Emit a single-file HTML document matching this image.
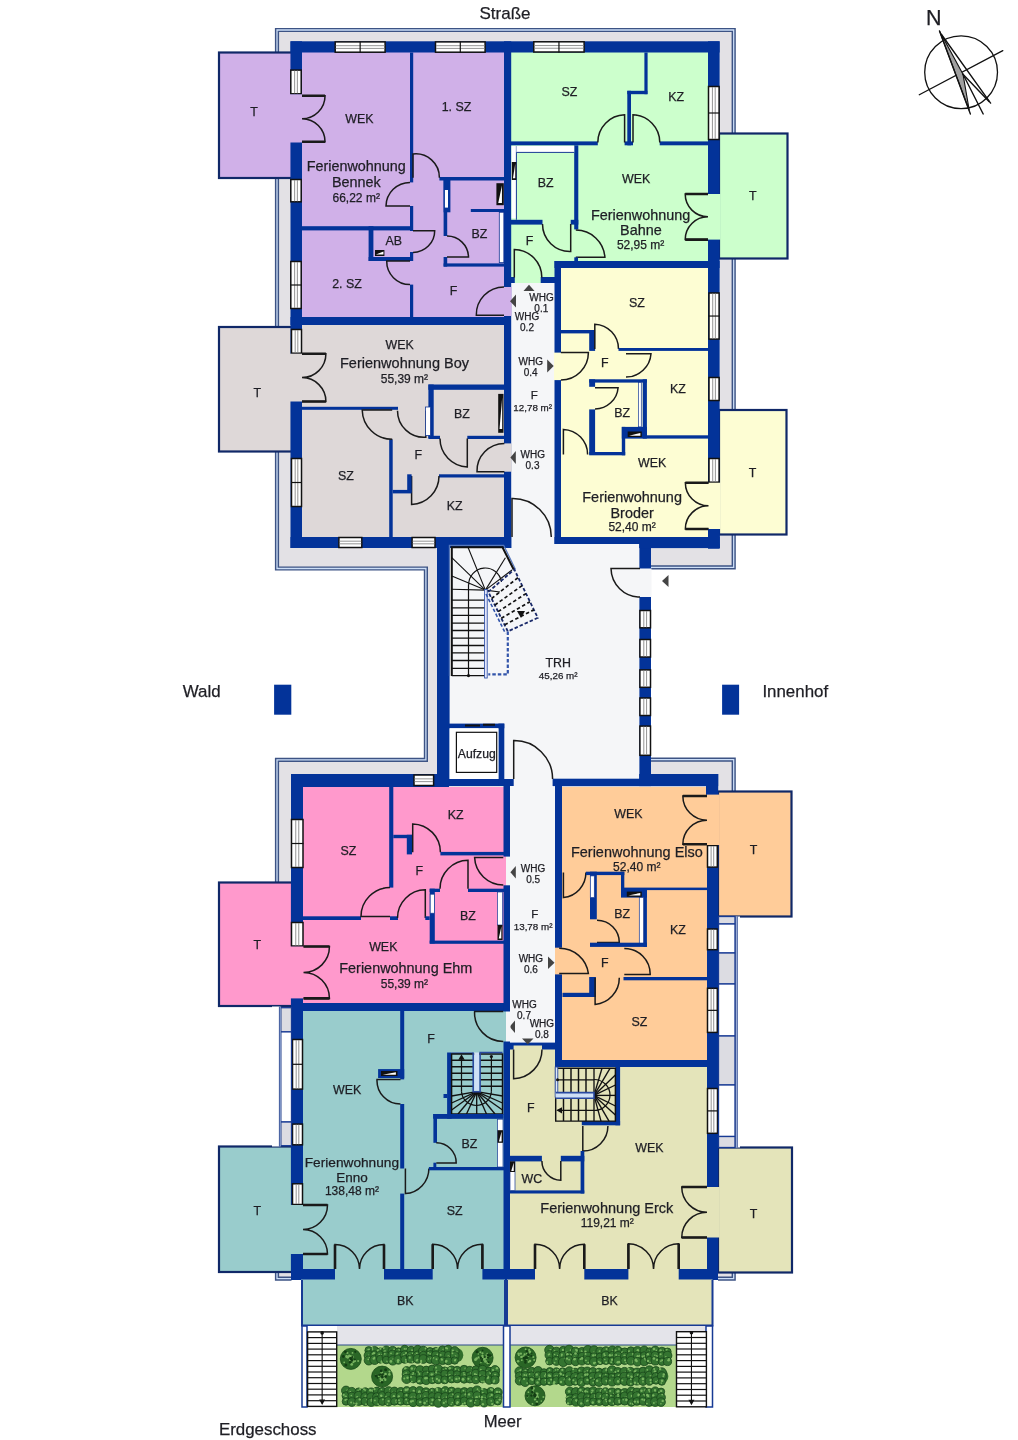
<!DOCTYPE html>
<html><head><meta charset="utf-8"><style>
html,body{margin:0;padding:0;background:#fff;}
svg{display:block;will-change:transform;}
text{font-family:"Liberation Sans",sans-serif;}
</style></head><body>
<svg width="1018" height="1440" viewBox="0 0 1018 1440">
<polygon points="277,30 733.7,30 733.7,567.3 651,567.3 651,759.6 733.7,759.6 733.7,1278.6 277,1278.6 277,759.8 425.9,759.8 425.9,568.5 277,568.5" fill="#e3e1e5"/>
<path d="M651 567.3 L733.7 567.3 L733.7 30 L277 30 L277 568.5 L425.9 568.5 L425.9 759.8 L277 759.8 L277 1278.6 L291.5 1278.6" stroke="#3d5384" stroke-width="4.2" fill="none"/>
<path d="M651 567.3 L733.7 567.3 L733.7 30 L277 30 L277 568.5 L425.9 568.5 L425.9 759.8 L277 759.8 L277 1278.6 L291.5 1278.6" stroke="#cddff8" stroke-width="1.3" fill="none"/>
<path d="M651 759.6 L733.7 759.6 L733.7 1278.6 L718 1278.6" stroke="#3d5384" stroke-width="4.2" fill="none"/>
<path d="M651 759.6 L733.7 759.6 L733.7 1278.6 L718 1278.6" stroke="#cddff8" stroke-width="1.3" fill="none"/>
<rect x="219" y="52.5" width="73" height="125.5" fill="#d0b0e8" stroke="#102868" stroke-width="2.2"/>
<rect x="719" y="133.5" width="68.5" height="125.0" fill="#ccffcc" stroke="#102868" stroke-width="2.2"/>
<rect x="219" y="327" width="73" height="124.5" fill="#ded8d8" stroke="#102868" stroke-width="2.2"/>
<rect x="719" y="410" width="67.5" height="124.5" fill="#fdfdd3" stroke="#102868" stroke-width="2.2"/>
<rect x="219" y="882.5" width="73" height="123.5" fill="#ff99cc" stroke="#102868" stroke-width="2.2"/>
<rect x="718" y="791.5" width="73.5" height="125.0" fill="#ffcc99" stroke="#102868" stroke-width="2.2"/>
<rect x="219" y="1146.5" width="73" height="125.5" fill="#99cccc" stroke="#102868" stroke-width="2.2"/>
<rect x="718" y="1147.5" width="74" height="125.0" fill="#e4e4ba" stroke="#102868" stroke-width="2.2"/>
<rect x="302" y="52" width="203" height="266" fill="#d0b0e8"/>
<rect x="511" y="52" width="197" height="210" fill="#ccffcc"/>
<rect x="511" y="262" width="44" height="21" fill="#ccffcc"/>
<rect x="302" y="324" width="203" height="213" fill="#ded8d8"/>
<rect x="560" y="267" width="149" height="270" fill="#fdfdd3"/>
<rect x="511" y="283" width="44" height="265" fill="#f5f6f8"/>
<rect x="449" y="544" width="191" height="236" fill="#f5f6f8"/>
<rect x="510" y="778" width="45" height="267" fill="#f5f6f8"/>
<rect x="303" y="787" width="201" height="217" fill="#ff99cc"/>
<rect x="562" y="787" width="146" height="274" fill="#ffcc99"/>
<rect x="303" y="1010" width="201" height="260" fill="#99cccc"/>
<rect x="509" y="1046" width="47" height="224" fill="#e4e4ba"/>
<rect x="509" y="1067" width="199" height="203" fill="#e4e4ba"/>
<rect x="290.5" y="41.3" width="429.1" height="11.2" fill="#033399"/>
<rect x="290.5" y="41.3" width="11.5" height="506.7" fill="#033399"/>
<rect x="290.5" y="537" width="220.8" height="11" fill="#033399"/>
<rect x="708" y="41.3" width="11.6" height="507.4" fill="#033399"/>
<rect x="554.5" y="537" width="165.1" height="7" fill="#033399"/>
<rect x="554.5" y="261" width="165.1" height="7" fill="#033399"/>
<rect x="504" y="41.3" width="7.2" height="506.7" fill="#033399"/>
<rect x="554.5" y="261" width="6.5" height="283" fill="#033399"/>
<rect x="290.5" y="317" width="220.5" height="8" fill="#033399"/>
<rect x="437" y="537" width="12.6" height="249" fill="#033399"/>
<rect x="639.4" y="537" width="11.6" height="249" fill="#033399"/>
<rect x="437" y="779" width="76.7" height="7" fill="#033399"/>
<rect x="552.6" y="779" width="98.4" height="7" fill="#033399"/>
<rect x="291" y="774" width="158" height="13" fill="#033399"/>
<rect x="553" y="778.7" width="98" height="7.4" fill="#033399"/>
<rect x="639.2" y="774" width="79.0" height="12.1" fill="#033399"/>
<rect x="706" y="774" width="12.2" height="21.4" fill="#033399"/>
<rect x="291" y="774" width="12" height="506" fill="#033399"/>
<rect x="707" y="774" width="11" height="506" fill="#033399"/>
<rect x="291" y="1003" width="219" height="8" fill="#033399"/>
<rect x="503.5" y="779" width="6.5" height="501" fill="#033399"/>
<rect x="555" y="779" width="7" height="288" fill="#033399"/>
<rect x="555" y="1060" width="163" height="7" fill="#033399"/>
<rect x="291" y="1269" width="427" height="11" fill="#033399"/>
<rect x="505" y="1042.6" width="51" height="6.9" fill="#033399"/>
<rect x="410" y="52.5" width="3.2" height="129.9" fill="#033399"/>
<rect x="410" y="206" width="3.2" height="25" fill="#033399"/>
<rect x="410" y="252" width="3.2" height="9" fill="#033399"/>
<rect x="410" y="284.6" width="3.2" height="33.4" fill="#033399"/>
<rect x="439.4" y="177" width="64.6" height="3.5" fill="#033399"/>
<rect x="302" y="226.2" width="111" height="4.2" fill="#033399"/>
<rect x="368.6" y="226.2" width="4.8" height="34.8" fill="#033399"/>
<rect x="368.6" y="257" width="44.4" height="4" fill="#033399"/>
<rect x="443.6" y="180" width="3.6" height="56" fill="#033399"/>
<rect x="443.6" y="257" width="3.6" height="9.6" fill="#033399"/>
<rect x="443.6" y="180" width="6.8" height="32.3" fill="#033399"/>
<rect x="443.6" y="263.4" width="60.4" height="3.2" fill="#033399"/>
<rect x="470.8" y="209" width="33.2" height="3" fill="#033399"/>
<rect x="444.9" y="190" width="3.1" height="17.6" fill="#fff"/>
<rect x="496.4" y="183.2" width="7.4" height="22.0" fill="#111"/>
<polygon points="501.95,185.39999999999998 498.25,203.0 501.95,203.0" fill="#fff"/>
<rect x="499.3" y="212.3" width="4.5" height="50.3" fill="#fff" stroke="#173a94" stroke-width="0.8"/>
<rect x="375" y="250" width="9.4" height="6" fill="#111"/>
<polygon points="375.94,254.5 383.46,251.5 383.46,254.5" fill="#fff"/>
<path d="M410 206 L386 206 A24.0 24.0 0 0 1 410 182.4" stroke="#1a1a1a" stroke-width="1.5" fill="none"/>
<path d="M413 177.7 L413 154 A23.7 23.7 0 0 1 439.4 177.7" stroke="#1a1a1a" stroke-width="1.5" fill="none"/>
<path d="M447 257 L468.5 257 A21.5 21.5 0 0 0 447 236" stroke="#1a1a1a" stroke-width="1.5" fill="none"/>
<path d="M413 230.7 L434.7 230.7 A21.7 21.7 0 0 1 413 252.4" stroke="#1a1a1a" stroke-width="1.5" fill="none"/>
<path d="M410 261 L386.7 261 A23.3 23.3 0 0 0 410 284.6" stroke="#1a1a1a" stroke-width="1.5" fill="none"/>
<rect x="503.5" y="287" width="8.1" height="29" fill="#d0b0e8"/>
<path d="M504 315.3 L476.3 315.3 A27.7 27.7 0 0 1 504 287" stroke="#1a1a1a" stroke-width="1.5" fill="none"/>
<rect x="290.8" y="70.1" width="10.4" height="23.7" fill="#fff" stroke="#111" stroke-width="1.5"/>
<line x1="294.63" y1="70.6" x2="294.63" y2="93.3" stroke="#888" stroke-width="0.9"/>
<line x1="297.37" y1="70.6" x2="297.37" y2="93.3" stroke="#888" stroke-width="0.9"/>
<rect x="289.5" y="94.3" width="13.0" height="48.2" fill="#d0b0e8"/>
<path d="M302 95.7 L325.05 95.7 A23.050000000000004 23.050000000000004 0 0 1 302 118.75 A23.050000000000004 23.050000000000004 0 0 1 325.05 141.8 L302 141.8" stroke="#1a1a1a" stroke-width="1.5" fill="none"/>
<path d="M302 95.7 L325.05 95.7 M325.05 141.8 L302 141.8" stroke="#1a1a1a" stroke-width="2.6"/>
<rect x="290.8" y="179.5" width="10.4" height="22.3" fill="#fff" stroke="#111" stroke-width="1.5"/>
<line x1="294.63" y1="180" x2="294.63" y2="201.3" stroke="#888" stroke-width="0.9"/>
<line x1="297.37" y1="180" x2="297.37" y2="201.3" stroke="#888" stroke-width="0.9"/>
<rect x="290.8" y="261.5" width="10.4" height="47" fill="#fff" stroke="#111" stroke-width="1.5"/>
<line x1="294.63" y1="262" x2="294.63" y2="308" stroke="#888" stroke-width="0.9"/>
<line x1="297.37" y1="262" x2="297.37" y2="308" stroke="#888" stroke-width="0.9"/>
<line x1="290.3" y1="285.0" x2="301.7" y2="285.0" stroke="#111" stroke-width="1.2"/>
<rect x="335.2" y="41.9" width="49.9" height="10.3" fill="#fff" stroke="#111" stroke-width="1.5"/>
<line x1="335.7" y1="45.69" x2="384.6" y2="45.69" stroke="#888" stroke-width="0.9"/>
<line x1="335.7" y1="48.41" x2="384.6" y2="48.41" stroke="#888" stroke-width="0.9"/>
<line x1="360.15" y1="41.4" x2="360.15" y2="52.7" stroke="#111" stroke-width="1.2"/>
<rect x="435.5" y="41.9" width="49.6" height="10.3" fill="#fff" stroke="#111" stroke-width="1.5"/>
<line x1="436" y1="45.69" x2="484.6" y2="45.69" stroke="#888" stroke-width="0.9"/>
<line x1="436" y1="48.41" x2="484.6" y2="48.41" stroke="#888" stroke-width="0.9"/>
<line x1="460.3" y1="41.4" x2="460.3" y2="52.7" stroke="#111" stroke-width="1.2"/>
<text x="359.4" y="123" font-size="12.4" text-anchor="middle" fill="#1e1e24" stroke="#1e1e24" stroke-width="0.25">WEK</text>
<text x="356.3" y="170.6" font-size="14.4" text-anchor="middle" fill="#1e1e24" stroke="#1e1e24" stroke-width="0.25" textLength="99" lengthAdjust="spacingAndGlyphs">Ferienwohnung</text>
<text x="356.3" y="186.6" font-size="14.4" text-anchor="middle" fill="#1e1e24" stroke="#1e1e24" stroke-width="0.25">Bennek</text>
<text x="356.2" y="201.5" font-size="12" text-anchor="middle" fill="#1e1e24" stroke="#1e1e24" stroke-width="0.25">66,22 m²</text>
<text x="456.5" y="111.4" font-size="12.4" text-anchor="middle" fill="#1e1e24" stroke="#1e1e24" stroke-width="0.25">1. SZ</text>
<text x="254" y="116" font-size="12.4" text-anchor="middle" fill="#1e1e24" stroke="#1e1e24" stroke-width="0.25">T</text>
<text x="347" y="288.4" font-size="12.4" text-anchor="middle" fill="#1e1e24" stroke="#1e1e24" stroke-width="0.25">2. SZ</text>
<text x="453.5" y="294.8" font-size="12.4" text-anchor="middle" fill="#1e1e24" stroke="#1e1e24" stroke-width="0.25">F</text>
<text x="479.5" y="237.5" font-size="12.4" text-anchor="middle" fill="#1e1e24" stroke="#1e1e24" stroke-width="0.25">BZ</text>
<text x="393.8" y="244.5" font-size="12.4" text-anchor="middle" fill="#1e1e24" stroke="#1e1e24" stroke-width="0.25">AB</text>
<rect x="533.8" y="41.8" width="50.3" height="10.2" fill="#fff" stroke="#111" stroke-width="1.5"/>
<line x1="534.3" y1="45.56" x2="583.6" y2="45.56" stroke="#888" stroke-width="0.9"/>
<line x1="534.3" y1="48.24" x2="583.6" y2="48.24" stroke="#888" stroke-width="0.9"/>
<line x1="558.95" y1="41.3" x2="558.95" y2="52.5" stroke="#111" stroke-width="1.2"/>
<rect x="708.5" y="86.5" width="10.6" height="53" fill="#fff" stroke="#111" stroke-width="1.5"/>
<line x1="712.41" y1="87" x2="712.41" y2="139" stroke="#888" stroke-width="0.9"/>
<line x1="715.19" y1="87" x2="715.19" y2="139" stroke="#888" stroke-width="0.9"/>
<line x1="708" y1="113.0" x2="719.6" y2="113.0" stroke="#111" stroke-width="1.2"/>
<rect x="707.5" y="194" width="13.0" height="45.6" fill="#ccffcc"/>
<path d="M708 194 L685.2 194 A22.799999999999997 22.799999999999997 0 0 0 708 216.8 A22.799999999999997 22.799999999999997 0 0 0 685.2 239.6 L708 239.6" stroke="#1a1a1a" stroke-width="1.5" fill="none"/>
<path d="M708 194 L685.2 194 M685.2 239.6 L708 239.6" stroke="#1a1a1a" stroke-width="2.6"/>
<rect x="644.4" y="52.5" width="3.2" height="41.7" fill="#033399"/>
<rect x="627.3" y="90.8" width="20.1" height="3.4" fill="#033399"/>
<rect x="627.3" y="90.8" width="3.7" height="54.5" fill="#033399"/>
<rect x="624.6" y="141.4" width="8.4" height="3.9" fill="#033399"/>
<rect x="511" y="141.4" width="86.8" height="3.9" fill="#033399"/>
<rect x="659.7" y="141.4" width="48.3" height="3.9" fill="#033399"/>
<path d="M624.6 142.5 L624.6 114.8 A27.7 27.7 0 0 0 597.8 142.5" stroke="#1a1a1a" stroke-width="1.5" fill="none"/>
<path d="M633 142.5 L633 114.8 A27.7 27.7 0 0 1 659.8 142.5" stroke="#1a1a1a" stroke-width="1.5" fill="none"/>
<rect x="574.2" y="145.3" width="4.1" height="84.1" fill="#033399"/>
<rect x="511" y="219.8" width="31.5" height="4.8" fill="#033399"/>
<rect x="570.7" y="219.8" width="7.6" height="4.8" fill="#033399"/>
<path d="M570.7 224 L570.7 251.4 A27.4 27.4 0 0 1 542.5 224" stroke="#1a1a1a" stroke-width="1.5" fill="none"/>
<path d="M575.8 257.3 L604.9 257.3 A29.1 29.1 0 0 0 575.8 230.1" stroke="#1a1a1a" stroke-width="1.5" fill="none"/>
<rect x="574.3" y="257.3" width="3.7" height="4.7" fill="#033399"/>
<rect x="511.6" y="146" width="4.8" height="72.4" fill="#fff"/>
<path d="M516.4 146 L516.4 219.8" stroke="#173a94" stroke-width="1" fill="none"/>
<rect x="511.8" y="162" width="4.6" height="18" fill="#111"/>
<polygon points="515.25,163.8 512.95,178.2 515.25,178.2" fill="#fff"/>
<rect x="516.4" y="146" width="57.8" height="6.4" fill="#fff"/>
<path d="M516.4 152.4 L574.2 152.4" stroke="#173a94" stroke-width="1" fill="none"/>
<rect x="540.7" y="277" width="14.3" height="6" fill="#033399"/>
<rect x="511" y="277" width="3.8" height="6" fill="#033399"/>
<path d="M514.3 277.5 L514.3 249.4 A28.1 28.1 0 0 1 541.8 277.5" stroke="#1a1a1a" stroke-width="1.5" fill="none"/>
<text x="569.3" y="96" font-size="12.4" text-anchor="middle" fill="#1e1e24" stroke="#1e1e24" stroke-width="0.25">SZ</text>
<text x="676.2" y="100.5" font-size="12.4" text-anchor="middle" fill="#1e1e24" stroke="#1e1e24" stroke-width="0.25">KZ</text>
<text x="636.2" y="182.7" font-size="12.4" text-anchor="middle" fill="#1e1e24" stroke="#1e1e24" stroke-width="0.25">WEK</text>
<text x="640.6" y="219.6" font-size="14.4" text-anchor="middle" fill="#1e1e24" stroke="#1e1e24" stroke-width="0.25" textLength="99.3" lengthAdjust="spacingAndGlyphs">Ferienwohnung</text>
<text x="640.9" y="234.9" font-size="14.4" text-anchor="middle" fill="#1e1e24" stroke="#1e1e24" stroke-width="0.25">Bahne</text>
<text x="640.6" y="248.9" font-size="12" text-anchor="middle" fill="#1e1e24" stroke="#1e1e24" stroke-width="0.25">52,95 m²</text>
<text x="545.7" y="187.4" font-size="12.4" text-anchor="middle" fill="#1e1e24" stroke="#1e1e24" stroke-width="0.25">BZ</text>
<text x="529.5" y="244.6" font-size="12.4" text-anchor="middle" fill="#1e1e24" stroke="#1e1e24" stroke-width="0.25">F</text>
<text x="752.9" y="200.4" font-size="12.4" text-anchor="middle" fill="#1e1e24" stroke="#1e1e24" stroke-width="0.25">T</text>
<rect x="291.5" y="329.5" width="10" height="23.7" fill="#fff" stroke="#111" stroke-width="1.5"/>
<line x1="295.18" y1="330" x2="295.18" y2="352.7" stroke="#888" stroke-width="0.9"/>
<line x1="297.82" y1="330" x2="297.82" y2="352.7" stroke="#888" stroke-width="0.9"/>
<rect x="289.5" y="353.7" width="13.0" height="47.8" fill="#ded8d8"/>
<path d="M302 353.7 L325.9 353.7 A23.900000000000006 23.900000000000006 0 0 1 302 377.6 A23.900000000000006 23.900000000000006 0 0 1 325.9 401.5 L302 401.5" stroke="#1a1a1a" stroke-width="1.5" fill="none"/>
<path d="M302 353.7 L325.9 353.7 M325.9 401.5 L302 401.5" stroke="#1a1a1a" stroke-width="2.6"/>
<rect x="291.5" y="458.5" width="10" height="48" fill="#fff" stroke="#111" stroke-width="1.5"/>
<line x1="295.18" y1="459" x2="295.18" y2="506" stroke="#888" stroke-width="0.9"/>
<line x1="297.82" y1="459" x2="297.82" y2="506" stroke="#888" stroke-width="0.9"/>
<line x1="291" y1="482.5" x2="302" y2="482.5" stroke="#111" stroke-width="1.2"/>
<rect x="338.9" y="537.5" width="22.9" height="10" fill="#fff" stroke="#111" stroke-width="1.5"/>
<line x1="339.4" y1="541.18" x2="361.3" y2="541.18" stroke="#888" stroke-width="0.9"/>
<line x1="339.4" y1="543.82" x2="361.3" y2="543.82" stroke="#888" stroke-width="0.9"/>
<rect x="412.1" y="537.5" width="22.9" height="10" fill="#fff" stroke="#111" stroke-width="1.5"/>
<line x1="412.6" y1="541.18" x2="434.5" y2="541.18" stroke="#888" stroke-width="0.9"/>
<line x1="412.6" y1="543.82" x2="434.5" y2="543.82" stroke="#888" stroke-width="0.9"/>
<rect x="302" y="406.8" width="96" height="3.0" fill="#033399"/>
<rect x="389.2" y="439.3" width="3.5" height="97.7" fill="#033399"/>
<path d="M392.2 410 L362.2 410 A30.0 30.0 0 0 0 392.2 439.3" stroke="#1a1a1a" stroke-width="1.5" fill="none"/>
<path d="M425.8 410.7 L425.8 437.2 A26.5 26.5 0 0 1 397.5 410.7" stroke="#1a1a1a" stroke-width="1.5" fill="none"/>
<rect x="428.4" y="384.5" width="5.3" height="53.5" fill="#033399"/>
<rect x="425.5" y="407" width="5" height="28.4" fill="#fff" stroke="#173a94" stroke-width="0.8"/>
<rect x="428.4" y="384.5" width="76.6" height="5.3" fill="#033399"/>
<rect x="428.4" y="435.8" width="11.6" height="3.2" fill="#033399"/>
<rect x="467.3" y="435.8" width="37.7" height="3.2" fill="#033399"/>
<path d="M467.3 438.5 L467.3 466.9 A28.4 28.4 0 0 1 440 438.5" stroke="#1a1a1a" stroke-width="1.5" fill="none"/>
<rect x="498.2" y="393.9" width="5.3" height="38.9" fill="#111"/>
<polygon points="502.175,397.78999999999996 499.525,428.91 502.175,428.91" fill="#fff"/>
<rect x="504" y="443.4" width="7.6" height="28.3" fill="#ded8d8"/>
<path d="M504.4 471.7 L477 471.7 A27.4 27.4 0 0 1 504.4 443.4" stroke="#1a1a1a" stroke-width="1.5" fill="none"/>
<rect x="439" y="474.3" width="66" height="3.2" fill="#033399"/>
<path d="M411.6 476 L411.6 504.4 A28.4 28.4 0 0 0 439 476" stroke="#1a1a1a" stroke-width="1.5" fill="none"/>
<rect x="407.2" y="474.3" width="4.4" height="17.7" fill="#033399"/>
<rect x="392.7" y="489.9" width="18.9" height="3.5" fill="#033399"/>
<text x="399.7" y="348.7" font-size="12.4" text-anchor="middle" fill="#1e1e24" stroke="#1e1e24" stroke-width="0.25">WEK</text>
<text x="404.5" y="367.6" font-size="14.4" text-anchor="middle" fill="#1e1e24" stroke="#1e1e24" stroke-width="0.25" textLength="129" lengthAdjust="spacingAndGlyphs">Ferienwohnung Boy</text>
<text x="404.4" y="382.5" font-size="12" text-anchor="middle" fill="#1e1e24" stroke="#1e1e24" stroke-width="0.25">55,39 m²</text>
<text x="257.2" y="396.8" font-size="12.4" text-anchor="middle" fill="#1e1e24" stroke="#1e1e24" stroke-width="0.25">T</text>
<text x="346" y="480" font-size="12.4" text-anchor="middle" fill="#1e1e24" stroke="#1e1e24" stroke-width="0.25">SZ</text>
<text x="418.3" y="459.3" font-size="12.4" text-anchor="middle" fill="#1e1e24" stroke="#1e1e24" stroke-width="0.25">F</text>
<text x="462" y="417.7" font-size="12.4" text-anchor="middle" fill="#1e1e24" stroke="#1e1e24" stroke-width="0.25">BZ</text>
<text x="454.6" y="509.7" font-size="12.4" text-anchor="middle" fill="#1e1e24" stroke="#1e1e24" stroke-width="0.25">KZ</text>
<rect x="554" y="352.6" width="7.5" height="27.5" fill="#fdfdd3"/>
<path d="M560.9 352.6 L588.4 352.6 A27.5 27.5 0 0 1 560.9 380.1" stroke="#1a1a1a" stroke-width="1.5" fill="none"/>
<rect x="560.9" y="330" width="31.7" height="3.4" fill="#033399"/>
<rect x="589.2" y="330" width="5.9" height="20.9" fill="#033399"/>
<path d="M594.8 349 L594.8 324.2 A24.8 24.8 0 0 1 618.5 349" stroke="#1a1a1a" stroke-width="1.5" fill="none"/>
<rect x="618.5" y="348" width="90.0" height="2.9" fill="#033399"/>
<path d="M626 353.8 L651 353.8 A25.0 25.0 0 0 1 626 377" stroke="#1a1a1a" stroke-width="1.5" fill="none"/>
<rect x="589.2" y="379.3" width="57.7" height="3.3" fill="#033399"/>
<rect x="589.2" y="379.3" width="5.9" height="7.5" fill="#033399"/>
<rect x="589.2" y="409.4" width="5.9" height="45.1" fill="#033399"/>
<path d="M595 387.7 L618.1 387.7 A23.1 23.1 0 0 1 595 408.9" stroke="#1a1a1a" stroke-width="1.5" fill="none"/>
<rect x="638.5" y="382.6" width="2.8" height="44.3" fill="#fff" stroke="#173a94" stroke-width="0.7"/>
<rect x="642.7" y="379.3" width="4.2" height="59.3" fill="#033399"/>
<rect x="589.2" y="452" width="36.0" height="3.3" fill="#033399"/>
<rect x="621.8" y="426.9" width="3.4" height="28.4" fill="#033399"/>
<rect x="621.8" y="426.9" width="25.1" height="11.7" fill="#033399"/>
<rect x="627.7" y="431.5" width="14.1" height="5.5" fill="#111"/>
<polygon points="629.11,435.625 640.39,432.875 640.39,435.625" fill="#fff"/>
<rect x="646.9" y="435.3" width="61.6" height="3.3" fill="#033399"/>
<path d="M563.4 454.5 L563.4 429.4 A25.1 25.1 0 0 1 587.6 454.5" stroke="#1a1a1a" stroke-width="1.5" fill="none"/>
<rect x="709.0" y="293.0" width="10.1" height="46.1" fill="#fff" stroke="#111" stroke-width="1.5"/>
<line x1="712.72" y1="293.5" x2="712.72" y2="338.6" stroke="#888" stroke-width="0.9"/>
<line x1="715.38" y1="293.5" x2="715.38" y2="338.6" stroke="#888" stroke-width="0.9"/>
<line x1="708.5" y1="316.05" x2="719.6" y2="316.05" stroke="#111" stroke-width="1.2"/>
<rect x="709.0" y="377.5" width="10.1" height="23" fill="#fff" stroke="#111" stroke-width="1.5"/>
<line x1="712.72" y1="378" x2="712.72" y2="400" stroke="#888" stroke-width="0.9"/>
<line x1="715.38" y1="378" x2="715.38" y2="400" stroke="#888" stroke-width="0.9"/>
<rect x="709.0" y="458.5" width="10.1" height="23.7" fill="#fff" stroke="#111" stroke-width="1.5"/>
<line x1="712.72" y1="459" x2="712.72" y2="481.7" stroke="#888" stroke-width="0.9"/>
<line x1="715.38" y1="459" x2="715.38" y2="481.7" stroke="#888" stroke-width="0.9"/>
<rect x="708" y="482.7" width="12.5" height="46.3" fill="#fdfdd3"/>
<path d="M708.5 482.7 L685.35 482.7 A23.150000000000006 23.150000000000006 0 0 0 708.5 505.85 A23.150000000000006 23.150000000000006 0 0 0 685.35 529 L708.5 529" stroke="#1a1a1a" stroke-width="1.5" fill="none"/>
<path d="M708.5 482.7 L685.35 482.7 M685.35 529 L708.5 529" stroke="#1a1a1a" stroke-width="2.6"/>
<text x="636.9" y="307.2" font-size="12.4" text-anchor="middle" fill="#1e1e24" stroke="#1e1e24" stroke-width="0.25">SZ</text>
<text x="604.8" y="366.8" font-size="12.4" text-anchor="middle" fill="#1e1e24" stroke="#1e1e24" stroke-width="0.25">F</text>
<text x="677.8" y="392.7" font-size="12.4" text-anchor="middle" fill="#1e1e24" stroke="#1e1e24" stroke-width="0.25">KZ</text>
<text x="622.1" y="416.9" font-size="12.4" text-anchor="middle" fill="#1e1e24" stroke="#1e1e24" stroke-width="0.25">BZ</text>
<text x="652.2" y="467" font-size="12.4" text-anchor="middle" fill="#1e1e24" stroke="#1e1e24" stroke-width="0.25">WEK</text>
<text x="632.1" y="501.6" font-size="14.4" text-anchor="middle" fill="#1e1e24" stroke="#1e1e24" stroke-width="0.25" textLength="99.7" lengthAdjust="spacingAndGlyphs">Ferienwohnung</text>
<text x="632.1" y="517.9" font-size="14.4" text-anchor="middle" fill="#1e1e24" stroke="#1e1e24" stroke-width="0.25">Broder</text>
<text x="632.1" y="531.3" font-size="12" text-anchor="middle" fill="#1e1e24" stroke="#1e1e24" stroke-width="0.25">52,40 m²</text>
<text x="752.6" y="477" font-size="12.4" text-anchor="middle" fill="#1e1e24" stroke="#1e1e24" stroke-width="0.25">T</text>
<path d="M512 537 L512 498.4 A38.6 38.6 0 0 1 551.3 537" stroke="#1a1a1a" stroke-width="1.5" fill="none"/>
<polygon points="529,284.7 523.5,291 534.5,291" fill="#444"/>
<polygon points="510,301.2 516,294.5 516,307.5" fill="#444"/>
<polygon points="553.7,366 547.2,359.5 547.2,372.5" fill="#444"/>
<polygon points="510.4,457.5 515.8,451 515.8,464" fill="#444"/>
<text x="541.5" y="300.8" font-size="10" text-anchor="middle" fill="#1e1e24" stroke="#1e1e24" stroke-width="0.25">WHG</text>
<text x="541.3" y="312.1" font-size="10" text-anchor="middle" fill="#1e1e24" stroke="#1e1e24" stroke-width="0.25">0.1</text>
<text x="527" y="319.8" font-size="10" text-anchor="middle" fill="#1e1e24" stroke="#1e1e24" stroke-width="0.25">WHG</text>
<text x="527" y="330.8" font-size="10" text-anchor="middle" fill="#1e1e24" stroke="#1e1e24" stroke-width="0.25">0.2</text>
<text x="530.7" y="365.1" font-size="10" text-anchor="middle" fill="#1e1e24" stroke="#1e1e24" stroke-width="0.25">WHG</text>
<text x="530.7" y="376.3" font-size="10" text-anchor="middle" fill="#1e1e24" stroke="#1e1e24" stroke-width="0.25">0.4</text>
<text x="534.2" y="398.5" font-size="11.5" text-anchor="middle" fill="#1e1e24" stroke="#1e1e24" stroke-width="0.25">F</text>
<text x="532.7" y="410.9" font-size="9.8" text-anchor="middle" fill="#1e1e24" stroke="#1e1e24" stroke-width="0.25">12,78 m²</text>
<text x="532.7" y="457.8" font-size="10" text-anchor="middle" fill="#1e1e24" stroke="#1e1e24" stroke-width="0.25">WHG</text>
<text x="532.5" y="469.4" font-size="10" text-anchor="middle" fill="#1e1e24" stroke="#1e1e24" stroke-width="0.25">0.3</text>
<path d="M449.4 676 L449.4 545.3 L503.7 545.3 L515.5 569.5" stroke="#5577bb" stroke-width="1.2" fill="none"/>
<path d="M451.8 676 L451.8 547.3 L502.5 547.3 L513.7 569.5" stroke="#111" stroke-width="2" fill="none"/>
<path d="M451.8 600.1 L485 600.1" stroke="#111" stroke-width="1.3" fill="none"/>
<path d="M451.8 607.8 L485 607.8" stroke="#111" stroke-width="1.3" fill="none"/>
<path d="M451.8 615.4 L485 615.4" stroke="#111" stroke-width="1.3" fill="none"/>
<path d="M451.8 623.1 L485 623.1" stroke="#111" stroke-width="1.3" fill="none"/>
<path d="M451.8 630.5 L485 630.5" stroke="#111" stroke-width="1.3" fill="none"/>
<path d="M451.8 638.1 L485 638.1" stroke="#111" stroke-width="1.3" fill="none"/>
<path d="M451.8 645.5 L485 645.5" stroke="#111" stroke-width="1.3" fill="none"/>
<path d="M451.8 652.9 L485 652.9" stroke="#111" stroke-width="1.3" fill="none"/>
<path d="M451.8 660.5 L485 660.5" stroke="#111" stroke-width="1.3" fill="none"/>
<path d="M451.8 668.3 L485 668.3" stroke="#111" stroke-width="1.3" fill="none"/>
<path d="M451.8 675.6 L485 675.6" stroke="#111" stroke-width="1.3" fill="none"/>
<path d="M468.5 584.5 L468.5 675.6" stroke="#111" stroke-width="1.2" fill="none"/>
<circle cx="468.5" cy="675.6" r="1.6" fill="#111"/>
<path d="M468.7 585 A16.5 16.5 0 0 1 501.5 582" stroke="#111" stroke-width="1.1" fill="none"/>
<path d="M485.4 590.1 L451.8 557.7" stroke="#111" stroke-width="1.1" fill="none"/>
<path d="M485.4 590.1 L451.8 576" stroke="#111" stroke-width="1.1" fill="none"/>
<path d="M485.4 590.1 L451.8 589.3" stroke="#111" stroke-width="1.1" fill="none"/>
<path d="M485.4 590.1 L468 547.3" stroke="#111" stroke-width="1.1" fill="none"/>
<path d="M485.4 590.1 L505.4 557.7" stroke="#111" stroke-width="1.1" fill="none"/>
<path d="M485.4 590.1 L512 570" stroke="#111" stroke-width="1.1" fill="none"/>
<path d="M485.4 590.1 L500 592" stroke="#111" stroke-width="1.1" fill="none"/>
<rect x="484.6" y="589.5" width="2.6" height="88.5" fill="#eef" stroke="#3355aa" stroke-width="0.9"/>
<path d="M488.3 591.9 L514.3 569.5 L537.8 617.8 L507.8 631.4 Z" stroke="#1a2a6a" stroke-width="1.8" fill="none" stroke-dasharray="3.5 2"/>
<path d="M486 594 L505.5 633.5" stroke="#3355aa" stroke-width="1.6" fill="none" stroke-dasharray="3.5 2"/>
<path d="M491.6 598.5 L518.2 577.5" stroke="#111" stroke-width="1.7" fill="none" stroke-dasharray="3.5 2.5"/>
<path d="M494.8 605.1 L522.1 585.6" stroke="#111" stroke-width="1.7" fill="none" stroke-dasharray="3.5 2.5"/>
<path d="M498.1 611.6 L526.0 593.6" stroke="#111" stroke-width="1.7" fill="none" stroke-dasharray="3.5 2.5"/>
<path d="M501.3 618.2 L530.0 601.7" stroke="#111" stroke-width="1.7" fill="none" stroke-dasharray="3.5 2.5"/>
<path d="M504.6 624.8 L533.9 609.8" stroke="#111" stroke-width="1.7" fill="none" stroke-dasharray="3.5 2.5"/>
<path d="M507.8 631.4 L507.8 674.4 L488.3 674.4" stroke="#3355aa" stroke-width="2.2" fill="none" stroke-dasharray="3.5 2"/>
<polygon points="521,618 517,611 525,611" fill="#111"/>
<text x="558.2" y="667" font-size="12.4" text-anchor="middle" fill="#1e1e24" stroke="#1e1e24" stroke-width="0.25">TRH</text>
<text x="558.2" y="679" font-size="9.8" text-anchor="middle" fill="#1e1e24" stroke="#1e1e24" stroke-width="0.25">45,26 m²</text>
<rect x="639" y="568.5" width="12.5" height="28.5" fill="#f5f6f8"/>
<path d="M640 568.5 L611 568.5 A29.0 29.0 0 0 0 640 597" stroke="#1a1a1a" stroke-width="1.5" fill="none"/>
<rect x="639.9" y="610.5" width="10.6" height="17.3" fill="#fff" stroke="#111" stroke-width="1.5"/>
<line x1="643.81" y1="611" x2="643.81" y2="627.3" stroke="#888" stroke-width="0.9"/>
<line x1="646.59" y1="611" x2="646.59" y2="627.3" stroke="#888" stroke-width="0.9"/>
<rect x="639.9" y="639.5" width="10.6" height="17.5" fill="#fff" stroke="#111" stroke-width="1.5"/>
<line x1="643.81" y1="640" x2="643.81" y2="656.5" stroke="#888" stroke-width="0.9"/>
<line x1="646.59" y1="640" x2="646.59" y2="656.5" stroke="#888" stroke-width="0.9"/>
<rect x="639.9" y="669.9" width="10.6" height="17.4" fill="#fff" stroke="#111" stroke-width="1.5"/>
<line x1="643.81" y1="670.4" x2="643.81" y2="686.8" stroke="#888" stroke-width="0.9"/>
<line x1="646.59" y1="670.4" x2="646.59" y2="686.8" stroke="#888" stroke-width="0.9"/>
<rect x="639.9" y="698.0" width="10.6" height="17.5" fill="#fff" stroke="#111" stroke-width="1.5"/>
<line x1="643.81" y1="698.5" x2="643.81" y2="715" stroke="#888" stroke-width="0.9"/>
<line x1="646.59" y1="698.5" x2="646.59" y2="715" stroke="#888" stroke-width="0.9"/>
<rect x="639.9" y="726.1" width="10.6" height="29.2" fill="#fff" stroke="#111" stroke-width="1.5"/>
<line x1="643.81" y1="726.6" x2="643.81" y2="754.8" stroke="#888" stroke-width="0.9"/>
<line x1="646.59" y1="726.6" x2="646.59" y2="754.8" stroke="#888" stroke-width="0.9"/>
<polygon points="662,581 668.5,575 668.5,587" fill="#444"/>
<rect x="449" y="723.6" width="55.3" height="4.7" fill="#033399"/>
<rect x="498.4" y="723.6" width="5.9" height="62.4" fill="#033399"/>
<rect x="449.6" y="728.3" width="48.8" height="50.7" fill="#fff"/>
<rect x="456.4" y="732.3" width="40.3" height="40.1" fill="#fff" stroke="#111" stroke-width="1.2"/>
<path d="M465 725.5 L480 725.5 M483 724.8 L495 724.8" stroke="#111" stroke-width="2" fill="none"/>
<text x="476.8" y="757.8" font-size="12.2" text-anchor="middle" fill="#1e1e24" stroke="#1e1e24" stroke-width="0.25">Aufzug</text>
<path d="M513.7 779 L513.7 740.6 A38.4 38.4 0 0 1 552.6 779" stroke="#1a1a1a" stroke-width="1.5" fill="none"/>
<rect x="639.2" y="544" width="80.6" height="4.1" fill="#033399"/>
<rect x="708" y="529.5" width="11.8" height="18.6" fill="#033399"/>
<rect x="414.0" y="775.0" width="19.6" height="10.5" fill="#fff" stroke="#111" stroke-width="1.5"/>
<line x1="414.5" y1="778.87" x2="433.1" y2="778.87" stroke="#888" stroke-width="0.9"/>
<line x1="414.5" y1="781.63" x2="433.1" y2="781.63" stroke="#888" stroke-width="0.9"/>
<rect x="389.2" y="786" width="4.1" height="101.6" fill="#033399"/>
<rect x="393.3" y="834.8" width="18.7" height="3.4" fill="#033399"/>
<rect x="406.8" y="834.8" width="5.2" height="19.6" fill="#033399"/>
<path d="M412.7 852.2 L412.7 823.9 A28.3 28.3 0 0 1 440.4 852.2" stroke="#1a1a1a" stroke-width="1.5" fill="none"/>
<rect x="440.4" y="851.9" width="68.6" height="3.5" fill="#033399"/>
<rect x="503" y="856.6" width="3" height="28.7" fill="#ff99cc"/>
<rect x="506" y="856.6" width="4.5" height="28.7" fill="#f5f6f8"/>
<path d="M503.3 857.4 L474.6 857.4 A28.7 28.7 0 0 0 503.3 884.9" stroke="#1a1a1a" stroke-width="1.5" fill="none"/>
<rect x="429.7" y="888.7" width="10.3" height="3.3" fill="#033399"/>
<rect x="468" y="888.7" width="41" height="3.3" fill="#033399"/>
<path d="M468 888.7 L468 860.3 A28.4 28.4 0 0 0 440 888.7" stroke="#1a1a1a" stroke-width="1.5" fill="none"/>
<rect x="429.7" y="888.7" width="5.1" height="54.8" fill="#033399"/>
<rect x="430.2" y="894.2" width="4.2" height="19" fill="#fff" stroke="#173a94" stroke-width="0.7"/>
<rect x="429.7" y="940.6" width="79.3" height="3.2" fill="#033399"/>
<rect x="497.5" y="892" width="5" height="33" fill="#fff" stroke="#173a94" stroke-width="0.7"/>
<rect x="497.5" y="925" width="5.1" height="15" fill="#111"/>
<polygon points="501.32500000000005,926.5 498.775,938.5 501.32500000000005,938.5" fill="#fff"/>
<rect x="303" y="916.3" width="58" height="3.7" fill="#033399"/>
<rect x="390" y="916.3" width="8" height="3.7" fill="#033399"/>
<path d="M390 916.5 L361 916.5 A29.0 29.0 0 0 1 390 887.6" stroke="#1a1a1a" stroke-width="1.5" fill="none"/>
<path d="M425.3 918 L425.3 889.8 A28.2 28.2 0 0 0 397.5 918" stroke="#1a1a1a" stroke-width="1.5" fill="none"/>
<rect x="425.3" y="916.3" width="4.4" height="3.7" fill="#033399"/>
<rect x="291.5" y="819.5" width="11.5" height="48" fill="#fff" stroke="#111" stroke-width="1.5"/>
<line x1="295.75" y1="820" x2="295.75" y2="867" stroke="#888" stroke-width="0.9"/>
<line x1="298.75" y1="820" x2="298.75" y2="867" stroke="#888" stroke-width="0.9"/>
<line x1="291" y1="843.5" x2="303.5" y2="843.5" stroke="#111" stroke-width="1.2"/>
<rect x="291.5" y="922.5" width="11.5" height="23.5" fill="#fff" stroke="#111" stroke-width="1.5"/>
<line x1="295.75" y1="923" x2="295.75" y2="945.5" stroke="#888" stroke-width="0.9"/>
<line x1="298.75" y1="923" x2="298.75" y2="945.5" stroke="#888" stroke-width="0.9"/>
<rect x="289.5" y="946.5" width="14.5" height="51.9" fill="#ff99cc"/>
<path d="M303.5 946.5 L329.45 946.5 A25.94999999999999 25.94999999999999 0 0 1 303.5 972.45 A25.94999999999999 25.94999999999999 0 0 1 329.45 998.4 L303.5 998.4" stroke="#1a1a1a" stroke-width="1.5" fill="none"/>
<path d="M303.5 946.5 L329.45 946.5 M329.45 998.4 L303.5 998.4" stroke="#1a1a1a" stroke-width="2.6"/>
<text x="348.4" y="854.7" font-size="12.4" text-anchor="middle" fill="#1e1e24" stroke="#1e1e24" stroke-width="0.25">SZ</text>
<text x="455.7" y="818.6" font-size="12.4" text-anchor="middle" fill="#1e1e24" stroke="#1e1e24" stroke-width="0.25">KZ</text>
<text x="419.2" y="875.2" font-size="12.4" text-anchor="middle" fill="#1e1e24" stroke="#1e1e24" stroke-width="0.25">F</text>
<text x="468" y="920.4" font-size="12.4" text-anchor="middle" fill="#1e1e24" stroke="#1e1e24" stroke-width="0.25">BZ</text>
<text x="383.3" y="951.3" font-size="12.4" text-anchor="middle" fill="#1e1e24" stroke="#1e1e24" stroke-width="0.25">WEK</text>
<text x="405.8" y="973.2" font-size="14.4" text-anchor="middle" fill="#1e1e24" stroke="#1e1e24" stroke-width="0.25" textLength="133" lengthAdjust="spacingAndGlyphs">Ferienwohnung Ehm</text>
<text x="404.4" y="987.9" font-size="12" text-anchor="middle" fill="#1e1e24" stroke="#1e1e24" stroke-width="0.25">55,39 m²</text>
<text x="257.2" y="949" font-size="12.4" text-anchor="middle" fill="#1e1e24" stroke="#1e1e24" stroke-width="0.25">T</text>
<polygon points="510.4,872.3 515.8,866 515.8,878.6" fill="#444"/>
<polygon points="554.5,962.8 548,956.5 548,969" fill="#444"/>
<polygon points="509.5,1026.7 515,1020.4 515,1033" fill="#444"/>
<polygon points="527.7,1044.6 522,1038.5 533.5,1038.5" fill="#444"/>
<text x="533.1" y="871.5" font-size="10" text-anchor="middle" fill="#1e1e24" stroke="#1e1e24" stroke-width="0.25">WHG</text>
<text x="533.1" y="882.8" font-size="10" text-anchor="middle" fill="#1e1e24" stroke="#1e1e24" stroke-width="0.25">0.5</text>
<text x="534.7" y="917.9" font-size="11.5" text-anchor="middle" fill="#1e1e24" stroke="#1e1e24" stroke-width="0.25">F</text>
<text x="533.1" y="929.8" font-size="9.8" text-anchor="middle" fill="#1e1e24" stroke="#1e1e24" stroke-width="0.25">13,78 m²</text>
<text x="530.9" y="962.1" font-size="10" text-anchor="middle" fill="#1e1e24" stroke="#1e1e24" stroke-width="0.25">WHG</text>
<text x="530.9" y="973.1" font-size="10" text-anchor="middle" fill="#1e1e24" stroke="#1e1e24" stroke-width="0.25">0.6</text>
<text x="524.6" y="1007.7" font-size="10" text-anchor="middle" fill="#1e1e24" stroke="#1e1e24" stroke-width="0.25">WHG</text>
<text x="524" y="1018.7" font-size="10" text-anchor="middle" fill="#1e1e24" stroke="#1e1e24" stroke-width="0.25">0.7</text>
<text x="541.9" y="1026.5" font-size="10" text-anchor="middle" fill="#1e1e24" stroke="#1e1e24" stroke-width="0.25">WHG</text>
<text x="541.9" y="1038.2" font-size="10" text-anchor="middle" fill="#1e1e24" stroke="#1e1e24" stroke-width="0.25">0.8</text>
<rect x="555" y="947.7" width="8" height="26.7" fill="#ffcc99"/>
<path d="M559.2 973.6 L588.4 973.6 A29.2 29.2 0 0 0 559.2 948.2" stroke="#1a1a1a" stroke-width="1.5" fill="none"/>
<path d="M563.4 872.6 L563.4 897.6 A25.0 25.0 0 0 0 585.9 872.6" stroke="#1a1a1a" stroke-width="1.5" fill="none"/>
<rect x="585.9" y="871.7" width="38.4" height="3.4" fill="#033399"/>
<rect x="621" y="871.7" width="3.3" height="16.7" fill="#033399"/>
<rect x="621" y="887.6" width="86" height="2.5" fill="#033399"/>
<rect x="590" y="871.7" width="6.8" height="47.6" fill="#033399"/>
<rect x="590.3" y="875.9" width="4" height="21.7" fill="#fff" stroke="#173a94" stroke-width="0.7"/>
<path d="M597 942.5 L619.3 942.5 A22.3 22.3 0 0 0 597 920.2" stroke="#1a1a1a" stroke-width="1.5" fill="none"/>
<rect x="621" y="888.4" width="25.9" height="9.2" fill="#033399"/>
<rect x="626.8" y="891.6" width="15.0" height="5.2" fill="#111"/>
<polygon points="628.3,895.5 640.3,892.9 640.3,895.5" fill="#fff"/>
<rect x="643.5" y="888.4" width="3.4" height="58.5" fill="#033399"/>
<rect x="639.3" y="897.6" width="4.2" height="45.9" fill="#fff" stroke="#173a94" stroke-width="0.7"/>
<rect x="590" y="942.7" width="56.9" height="4.2" fill="#033399"/>
<path d="M624.3 974.4 L650.2 974.4 A25.9 25.9 0 0 0 624.3 948.4" stroke="#1a1a1a" stroke-width="1.5" fill="none"/>
<rect x="623.5" y="977" width="83.5" height="3.3" fill="#033399"/>
<rect x="589.2" y="977" width="6.7" height="16.3" fill="#033399"/>
<rect x="562.5" y="992.8" width="33.4" height="4.2" fill="#033399"/>
<path d="M595.1 977.8 L595.1 1004.5 A26.7 26.7 0 0 0 619.3 977.8" stroke="#1a1a1a" stroke-width="1.5" fill="none"/>
<rect x="707.5" y="845.5" width="9.8" height="21.6" fill="#fff" stroke="#111" stroke-width="1.5"/>
<line x1="711.1" y1="846" x2="711.1" y2="866.6" stroke="#888" stroke-width="0.9"/>
<line x1="713.7" y1="846" x2="713.7" y2="866.6" stroke="#888" stroke-width="0.9"/>
<rect x="707.5" y="929.0" width="9.8" height="20.7" fill="#fff" stroke="#111" stroke-width="1.5"/>
<line x1="711.1" y1="929.5" x2="711.1" y2="949.2" stroke="#888" stroke-width="0.9"/>
<line x1="713.7" y1="929.5" x2="713.7" y2="949.2" stroke="#888" stroke-width="0.9"/>
<rect x="707.5" y="988.3" width="9.8" height="44.1" fill="#fff" stroke="#111" stroke-width="1.5"/>
<line x1="711.1" y1="988.8" x2="711.1" y2="1031.9" stroke="#888" stroke-width="0.9"/>
<line x1="713.7" y1="988.8" x2="713.7" y2="1031.9" stroke="#888" stroke-width="0.9"/>
<line x1="707" y1="1010.35" x2="717.8" y2="1010.35" stroke="#111" stroke-width="1.2"/>
<rect x="706.5" y="794.6" width="13.1" height="50.4" fill="#ffcc99"/>
<path d="M707 796 L682.85 796 A24.149999999999977 24.149999999999977 0 0 0 707 820.15 A24.149999999999977 24.149999999999977 0 0 0 682.85 844.3 L707 844.3" stroke="#1a1a1a" stroke-width="1.5" fill="none"/>
<path d="M707 796 L682.85 796 M682.85 844.3 L707 844.3" stroke="#1a1a1a" stroke-width="2.6"/>
<text x="628.4" y="818.2" font-size="12.4" text-anchor="middle" fill="#1e1e24" stroke="#1e1e24" stroke-width="0.25">WEK</text>
<text x="636.9" y="857.3" font-size="14.4" text-anchor="middle" fill="#1e1e24" stroke="#1e1e24" stroke-width="0.25" textLength="131.9" lengthAdjust="spacingAndGlyphs">Ferienwohnung Elso</text>
<text x="636.8" y="871.4" font-size="12" text-anchor="middle" fill="#1e1e24" stroke="#1e1e24" stroke-width="0.25">52,40 m²</text>
<text x="622.1" y="918.2" font-size="12.4" text-anchor="middle" fill="#1e1e24" stroke="#1e1e24" stroke-width="0.25">BZ</text>
<text x="677.8" y="934.4" font-size="12.4" text-anchor="middle" fill="#1e1e24" stroke="#1e1e24" stroke-width="0.25">KZ</text>
<text x="604.8" y="967.3" font-size="12.4" text-anchor="middle" fill="#1e1e24" stroke="#1e1e24" stroke-width="0.25">F</text>
<text x="639.3" y="1026.2" font-size="12.4" text-anchor="middle" fill="#1e1e24" stroke="#1e1e24" stroke-width="0.25">SZ</text>
<text x="753.5" y="853.7" font-size="12.4" text-anchor="middle" fill="#1e1e24" stroke="#1e1e24" stroke-width="0.25">T</text>
<rect x="400.2" y="1011" width="4.0" height="68.4" fill="#033399"/>
<rect x="378.1" y="1069.1" width="26.1" height="8.9" fill="#033399"/>
<rect x="381" y="1071" width="16.5" height="5" fill="#111"/>
<polygon points="382.65,1074.75 395.85,1072.25 395.85,1074.75" fill="#fff"/>
<path d="M400.5 1079.5 L377 1079.5 A23.5 23.5 0 0 0 400.5 1104" stroke="#1a1a1a" stroke-width="1.5" fill="none"/>
<rect x="400.2" y="1104" width="4.0" height="64.5" fill="#033399"/>
<rect x="400.2" y="1193.6" width="4.0" height="75.4" fill="#033399"/>
<path d="M405.4 1168.5 L405.4 1193.6 A25.1 25.1 0 0 0 428.9 1168.5" stroke="#1a1a1a" stroke-width="1.5" fill="none"/>
<rect x="428.9" y="1167" width="75.1" height="3.3" fill="#033399"/>
<rect x="503" y="1011.5" width="3" height="30.0" fill="#99cccc"/>
<rect x="506" y="1011.5" width="4.5" height="30.0" fill="#f5f6f8"/>
<path d="M503.3 1011.5 L474.6 1011.5 A28.7 28.7 0 0 0 503.3 1041.5" stroke="#1a1a1a" stroke-width="1.5" fill="none"/>
<rect x="451.6" y="1052.5" width="50.9" height="61.5" fill="#99cccc"/>
<rect x="447.1" y="1052.5" width="4.5" height="66.2" fill="#033399"/>
<rect x="433.4" y="1114" width="69.9" height="4.7" fill="#033399"/>
<rect x="443.5" y="1094" width="3.9" height="4" fill="#033399"/>
<path d="M451.6 1053.2 L473.2 1053.2" stroke="#2a4aa0" stroke-width="1.5" fill="none"/>
<path d="M451.6 1054 L502.5 1054 L502.5 1114 L451.6 1114 Z" stroke="#111" stroke-width="1.45" fill="none"/>
<path d="M451.6 1060.3 L473.2 1060.3 M480.1 1060.3 L502.5 1060.3" stroke="#111" stroke-width="1.45" fill="none"/>
<path d="M451.6 1066.8 L473.2 1066.8 M480.1 1066.8 L502.5 1066.8" stroke="#111" stroke-width="1.45" fill="none"/>
<path d="M451.6 1073.3 L473.2 1073.3 M480.1 1073.3 L502.5 1073.3" stroke="#111" stroke-width="1.45" fill="none"/>
<path d="M451.6 1079.8 L473.2 1079.8 M480.1 1079.8 L502.5 1079.8" stroke="#111" stroke-width="1.45" fill="none"/>
<path d="M451.6 1086.3 L473.2 1086.3 M480.1 1086.3 L502.5 1086.3" stroke="#111" stroke-width="1.45" fill="none"/>
<path d="M461.5 1057 L461.5 1091.7 M491.4 1057 L491.4 1091.7" stroke="#111" stroke-width="1.2" fill="none"/>
<path d="M461.5 1091.7 A15 15 0 0 0 491.4 1091.7" stroke="#111" stroke-width="1.2" fill="none"/>
<path d="M476.7 1091.7 L451.6 1096" stroke="#111" stroke-width="1.35" fill="none"/>
<path d="M476.7 1091.7 L451.6 1103" stroke="#111" stroke-width="1.35" fill="none"/>
<path d="M476.7 1091.7 L451.6 1110" stroke="#111" stroke-width="1.35" fill="none"/>
<path d="M476.7 1091.7 L458 1114" stroke="#111" stroke-width="1.35" fill="none"/>
<path d="M476.7 1091.7 L466.5 1114" stroke="#111" stroke-width="1.35" fill="none"/>
<path d="M476.7 1091.7 L476.7 1114" stroke="#111" stroke-width="1.35" fill="none"/>
<path d="M476.7 1091.7 L486.5 1114" stroke="#111" stroke-width="1.35" fill="none"/>
<path d="M476.7 1091.7 L495 1114" stroke="#111" stroke-width="1.35" fill="none"/>
<path d="M476.7 1091.7 L502.5 1110" stroke="#111" stroke-width="1.35" fill="none"/>
<path d="M476.7 1091.7 L502.5 1103" stroke="#111" stroke-width="1.35" fill="none"/>
<path d="M476.7 1091.7 L502.5 1096" stroke="#111" stroke-width="1.35" fill="none"/>
<path d="M473.2 1052.5 L473.2 1091.7 L480.1 1091.7 L480.1 1052.5 L502.5 1052.5" stroke="#2a4aa0" stroke-width="1.6" fill="none"/>
<rect x="474.2" y="1052.5" width="4.9" height="38.2" fill="#cfe0f6"/>
<polygon points="461.5,1054.2 458.3,1059.8 464.7,1059.8" fill="#111"/>
<circle cx="491.4" cy="1056.5" r="1.6" fill="#111"/>
<rect x="557" y="1067" width="58.4" height="54.1" fill="#e4e4ba"/>
<rect x="615.4" y="1067" width="4.7" height="58.3" fill="#033399"/>
<rect x="581.8" y="1121.1" width="38.3" height="4.2" fill="#033399"/>
<path d="M555.7 1068.3 L615.4 1068.3 L615.4 1121.1 L555.7 1121.1 Z" stroke="#111" stroke-width="1.45" fill="none"/>
<rect x="555.2" y="1067" width="2.6" height="30" fill="#dde8f8" stroke="#2a4aa0" stroke-width="0.9"/>
<path d="M563.5 1068.3 L563.5 1092.6 M563.5 1098.2 L563.5 1121.1" stroke="#111" stroke-width="1.45" fill="none"/>
<path d="M571 1068.3 L571 1092.6 M571 1098.2 L571 1121.1" stroke="#111" stroke-width="1.45" fill="none"/>
<path d="M578.5 1068.3 L578.5 1092.6 M578.5 1098.2 L578.5 1121.1" stroke="#111" stroke-width="1.45" fill="none"/>
<path d="M586 1068.3 L586 1092.6 M586 1098.2 L586 1121.1" stroke="#111" stroke-width="1.45" fill="none"/>
<path d="M557.5 1079.8 L594 1079.8 M557.5 1110.3 L594 1110.3" stroke="#111" stroke-width="1.2" fill="none"/>
<path d="M594 1079.5 A16 15.5 0 0 1 594 1110.5" stroke="#111" stroke-width="1.2" fill="none"/>
<path d="M594 1095.4 L594 1068.3" stroke="#111" stroke-width="1.35" fill="none"/>
<path d="M594 1095.4 L602 1068.3" stroke="#111" stroke-width="1.35" fill="none"/>
<path d="M594 1095.4 L610 1068.3" stroke="#111" stroke-width="1.35" fill="none"/>
<path d="M594 1095.4 L615.4 1075" stroke="#111" stroke-width="1.35" fill="none"/>
<path d="M594 1095.4 L615.4 1085" stroke="#111" stroke-width="1.35" fill="none"/>
<path d="M594 1095.4 L615.4 1095.4" stroke="#111" stroke-width="1.35" fill="none"/>
<path d="M594 1095.4 L615.4 1106" stroke="#111" stroke-width="1.35" fill="none"/>
<path d="M594 1095.4 L615.4 1115" stroke="#111" stroke-width="1.35" fill="none"/>
<path d="M594 1095.4 L609 1121.1" stroke="#111" stroke-width="1.35" fill="none"/>
<path d="M594 1095.4 L601 1121.1" stroke="#111" stroke-width="1.35" fill="none"/>
<path d="M594 1095.4 L594 1121.1" stroke="#111" stroke-width="1.35" fill="none"/>
<path d="M555.7 1092.6 L594 1092.6 L594 1098.2 L555.7 1098.2" stroke="#2a4aa0" stroke-width="1.6" fill="#cfe0f6"/>
<polygon points="556.3,1110.3 562,1107.2 562,1113.4" fill="#111"/>
<circle cx="557.5" cy="1079.8" r="1.5" fill="#111"/>
<rect x="433.4" y="1114" width="69.9" height="4.5" fill="#033399"/>
<rect x="433.4" y="1114" width="3.6" height="28.8" fill="#033399"/>
<rect x="433.4" y="1162.7" width="2.9" height="6.6" fill="#033399"/>
<path d="M436.3 1163 L456.2 1163 A19.9 19.9 0 0 0 436.3 1142.8" stroke="#1a1a1a" stroke-width="1.5" fill="none"/>
<rect x="497.5" y="1119.2" width="5.5" height="47.8" fill="#fff" stroke="#173a94" stroke-width="0.7"/>
<rect x="497.5" y="1130.2" width="5.5" height="12.6" fill="#111"/>
<polygon points="501.625,1131.46 498.875,1141.54 501.625,1141.54" fill="#fff"/>
<rect x="292.5" y="1039.5" width="10" height="49.6" fill="#fff" stroke="#111" stroke-width="1.5"/>
<line x1="296.18" y1="1040" x2="296.18" y2="1088.6" stroke="#888" stroke-width="0.9"/>
<line x1="298.82" y1="1040" x2="298.82" y2="1088.6" stroke="#888" stroke-width="0.9"/>
<line x1="292" y1="1064.3" x2="303" y2="1064.3" stroke="#111" stroke-width="1.2"/>
<rect x="292.5" y="1124.1" width="10" height="20.7" fill="#fff" stroke="#111" stroke-width="1.5"/>
<line x1="296.18" y1="1124.6" x2="296.18" y2="1144.3" stroke="#888" stroke-width="0.9"/>
<line x1="298.82" y1="1124.6" x2="298.82" y2="1144.3" stroke="#888" stroke-width="0.9"/>
<rect x="292.5" y="1183.8" width="10" height="20.7" fill="#fff" stroke="#111" stroke-width="1.5"/>
<line x1="296.18" y1="1184.3" x2="296.18" y2="1204" stroke="#888" stroke-width="0.9"/>
<line x1="298.82" y1="1184.3" x2="298.82" y2="1204" stroke="#888" stroke-width="0.9"/>
<rect x="289.5" y="1205" width="14.5" height="49" fill="#99cccc"/>
<path d="M303 1205 L327.5 1205 A24.5 24.5 0 0 1 303 1229.5 A24.5 24.5 0 0 1 327.5 1254 L303 1254" stroke="#1a1a1a" stroke-width="1.5" fill="none"/>
<path d="M303 1205 L327.5 1205 M327.5 1254 L303 1254" stroke="#1a1a1a" stroke-width="2.6"/>
<rect x="335" y="1268.5" width="49" height="12.0" fill="#99cccc"/>
<path d="M335 1269 L335 1244.5 A24.5 24.5 0 0 1 359.5 1269 A24.5 24.5 0 0 1 384 1244.5 L384 1269" stroke="#1a1a1a" stroke-width="1.5" fill="none"/>
<path d="M335 1269 L335 1244.5 M384 1244.5 L384 1269" stroke="#1a1a1a" stroke-width="2.6"/>
<rect x="432.7" y="1268.5" width="49.7" height="12.0" fill="#99cccc"/>
<path d="M432.7 1269 L432.7 1244.15 A24.849999999999994 24.849999999999994 0 0 1 457.54999999999995 1269 A24.849999999999994 24.849999999999994 0 0 1 482.4 1244.15 L482.4 1269" stroke="#1a1a1a" stroke-width="1.5" fill="none"/>
<path d="M432.7 1269 L432.7 1244.15 M482.4 1244.15 L482.4 1269" stroke="#1a1a1a" stroke-width="2.6"/>
<text x="347.2" y="1093.7" font-size="12.4" text-anchor="middle" fill="#1e1e24" stroke="#1e1e24" stroke-width="0.25">WEK</text>
<text x="351.9" y="1166.5" font-size="13.7" text-anchor="middle" fill="#1e1e24" stroke="#1e1e24" stroke-width="0.25" textLength="94.3" lengthAdjust="spacingAndGlyphs">Ferienwohnung</text>
<text x="351.9" y="1181.6" font-size="13.5" text-anchor="middle" fill="#1e1e24" stroke="#1e1e24" stroke-width="0.25">Enno</text>
<text x="351.9" y="1194.8" font-size="12" text-anchor="middle" fill="#1e1e24" stroke="#1e1e24" stroke-width="0.25">138,48 m²</text>
<text x="431.1" y="1043.4" font-size="12.4" text-anchor="middle" fill="#1e1e24" stroke="#1e1e24" stroke-width="0.25">F</text>
<text x="469.5" y="1147.8" font-size="12.4" text-anchor="middle" fill="#1e1e24" stroke="#1e1e24" stroke-width="0.25">BZ</text>
<text x="454.7" y="1214.5" font-size="12.4" text-anchor="middle" fill="#1e1e24" stroke="#1e1e24" stroke-width="0.25">SZ</text>
<text x="257.2" y="1214.5" font-size="12.4" text-anchor="middle" fill="#1e1e24" stroke="#1e1e24" stroke-width="0.25">T</text>
<rect x="513.6" y="1045.5" width="28.4" height="4.5" fill="#e4e4ba"/>
<path d="M513.6 1049.5 L513.6 1078.7 A29.2 29.2 0 0 0 542 1049.5" stroke="#1a1a1a" stroke-width="1.5" fill="none"/>
<path d="M582.8 1126 L582.8 1151 A25.0 25.0 0 0 0 607.9 1126" stroke="#1a1a1a" stroke-width="1.5" fill="none"/>
<rect x="510" y="1155.8" width="31.9" height="5.6" fill="#033399"/>
<rect x="560.8" y="1155.8" width="23.5" height="5.6" fill="#033399"/>
<path d="M560.8 1161 L560.8 1180.3 A19.3 19.3 0 0 1 541.9 1161" stroke="#1a1a1a" stroke-width="1.5" fill="none"/>
<rect x="510" y="1190.4" width="74.3" height="3.1" fill="#033399"/>
<rect x="580.6" y="1151" width="3.7" height="42.5" fill="#033399"/>
<rect x="510" y="1161.4" width="5" height="29" fill="#fff" stroke="#173a94" stroke-width="0.7"/>
<rect x="510" y="1161.4" width="5" height="10.6" fill="#111"/>
<polygon points="513.75,1162.46 511.25,1170.94 513.75,1170.94" fill="#fff"/>
<rect x="707.5" y="1088.5" width="10" height="44.8" fill="#fff" stroke="#111" stroke-width="1.5"/>
<line x1="711.18" y1="1089" x2="711.18" y2="1132.8" stroke="#888" stroke-width="0.9"/>
<line x1="713.82" y1="1089" x2="713.82" y2="1132.8" stroke="#888" stroke-width="0.9"/>
<line x1="707" y1="1110.9" x2="718" y2="1110.9" stroke="#111" stroke-width="1.2"/>
<rect x="706.5" y="1187" width="13.1" height="50.5" fill="#e4e4ba"/>
<path d="M707 1187 L681.75 1187 A25.25 25.25 0 0 0 707 1212.25 A25.25 25.25 0 0 0 681.75 1237.5 L707 1237.5" stroke="#1a1a1a" stroke-width="1.5" fill="none"/>
<path d="M707 1187 L681.75 1187 M681.75 1237.5 L707 1237.5" stroke="#1a1a1a" stroke-width="2.6"/>
<rect x="535" y="1268.5" width="49.3" height="12.0" fill="#e4e4ba"/>
<path d="M535 1269 L535 1244.35 A24.649999999999977 24.649999999999977 0 0 1 559.65 1269 A24.649999999999977 24.649999999999977 0 0 1 584.3 1244.35 L584.3 1269" stroke="#1a1a1a" stroke-width="1.5" fill="none"/>
<path d="M535 1269 L535 1244.35 M584.3 1244.35 L584.3 1269" stroke="#1a1a1a" stroke-width="2.6"/>
<rect x="628.4" y="1268.5" width="50.3" height="12.0" fill="#e4e4ba"/>
<path d="M628.4 1269 L628.4 1243.85 A25.150000000000034 25.150000000000034 0 0 1 653.55 1269 A25.150000000000034 25.150000000000034 0 0 1 678.7 1243.85 L678.7 1269" stroke="#1a1a1a" stroke-width="1.5" fill="none"/>
<path d="M628.4 1269 L628.4 1243.85 M678.7 1243.85 L678.7 1269" stroke="#1a1a1a" stroke-width="2.6"/>
<text x="530.9" y="1112.4" font-size="12.4" text-anchor="middle" fill="#1e1e24" stroke="#1e1e24" stroke-width="0.25">F</text>
<text x="649.4" y="1151.7" font-size="12.4" text-anchor="middle" fill="#1e1e24" stroke="#1e1e24" stroke-width="0.25">WEK</text>
<text x="531.8" y="1182.5" font-size="12.4" text-anchor="middle" fill="#1e1e24" stroke="#1e1e24" stroke-width="0.25">WC</text>
<text x="606.8" y="1213" font-size="14.4" text-anchor="middle" fill="#1e1e24" stroke="#1e1e24" stroke-width="0.25" textLength="133" lengthAdjust="spacingAndGlyphs">Ferienwohnung Erck</text>
<text x="607.3" y="1227.0" font-size="12" text-anchor="middle" fill="#1e1e24" stroke="#1e1e24" stroke-width="0.25">119,21 m²</text>
<text x="753.5" y="1218" font-size="12.4" text-anchor="middle" fill="#1e1e24" stroke="#1e1e24" stroke-width="0.25">T</text>
<rect x="734.5" y="916.5" width="5.5" height="231.0" fill="#fff"/>
<rect x="272" y="1006.5" width="8" height="140.0" fill="#fff"/>
<rect x="718.5" y="916.5" width="16.5" height="7.5" fill="#dcdce2" stroke="#173a94" stroke-width="1.3"/>
<rect x="718.5" y="924" width="16.5" height="29" fill="#fff" stroke="#173a94" stroke-width="1.3"/>
<rect x="718.5" y="953" width="16.5" height="31" fill="#dcdce2" stroke="#173a94" stroke-width="1.3"/>
<rect x="718.5" y="984" width="16.5" height="52" fill="#fff" stroke="#173a94" stroke-width="1.3"/>
<rect x="718.5" y="1036" width="16.5" height="49" fill="#dcdce2" stroke="#173a94" stroke-width="1.3"/>
<rect x="718.5" y="1085" width="16.5" height="51.5" fill="#fff" stroke="#173a94" stroke-width="1.3"/>
<rect x="718.5" y="1136.5" width="16.5" height="11.0" fill="#dcdce2" stroke="#173a94" stroke-width="1.3"/>
<rect x="279.8" y="1007.7" width="11.7" height="24.2" fill="#dcdce2" stroke="#173a94" stroke-width="1.3"/>
<rect x="279.8" y="1031.9" width="11.7" height="90.1" fill="#fff" stroke="#173a94" stroke-width="1.3"/>
<rect x="279.8" y="1122" width="11.7" height="23.7" fill="#dcdce2" stroke="#173a94" stroke-width="1.3"/>
<path d="M736.4 916.5 L736.4 1147.5" stroke="#24408a" stroke-width="2.6" fill="none"/>
<path d="M736.4 916.5 L736.4 1147.5" stroke="#c8d8f4" stroke-width="0.8" fill="none"/>
<path d="M280.2 1006.5 L280.2 1146.5" stroke="#24408a" stroke-width="2.6" fill="none"/>
<path d="M280.2 1006.5 L280.2 1146.5" stroke="#c8d8f4" stroke-width="0.8" fill="none"/>
<rect x="301" y="1279.5" width="204" height="46.0" fill="#99cccc"/>
<rect x="507" y="1279.5" width="205.5" height="46.0" fill="#e4e4ba"/>
<path d="M302 1280 L302 1325.5 L505 1325.5 L505 1280 M507 1280 L507 1325.5 L712.5 1325.5 L712.5 1280" stroke="#173a94" stroke-width="2" fill="none"/>
<rect x="302" y="1326" width="410.5" height="81" fill="#ffffff"/>
<rect x="337" y="1326" width="166.5" height="19" fill="#e4e4ea"/>
<rect x="510" y="1326" width="196" height="19" fill="#e4e4ea"/>
<rect x="337" y="1345" width="166.5" height="62" fill="#b3d88c"/>
<rect x="510" y="1345" width="166.5" height="62" fill="#b3d88c"/>
<rect x="302" y="1326" width="5" height="81" fill="#fff" stroke="#173a94" stroke-width="1.5"/>
<rect x="503.5" y="1326" width="6.5" height="81" fill="#fff" stroke="#173a94" stroke-width="1.5"/>
<rect x="706" y="1326" width="6.5" height="81" fill="#fff" stroke="#173a94" stroke-width="1.5"/>
<g>
<path d="M337 1345 L503.5 1345 M510 1345 L706 1345" stroke="#2a4a8a" stroke-width="1.2" fill="none"/>
<circle cx="350.8" cy="1358.9" r="10.5" fill="#2a6626" stroke="#174a16" stroke-width="0.8"/>
<circle cx="350.2" cy="1360.1" r="1.2" fill="#79b460"/>
<circle cx="355.1" cy="1361.0" r="1.0" fill="#79b460"/>
<circle cx="355.0" cy="1360.5" r="0.8" fill="#79b460"/>
<circle cx="350.2" cy="1359.2" r="0.9" fill="#79b460"/>
<circle cx="344.2" cy="1362.3" r="0.9" fill="#79b460"/>
<circle cx="351.7" cy="1364.4" r="1.4" fill="#79b460"/>
<circle cx="347.7" cy="1357.3" r="1.4" fill="#79b460"/>
<circle cx="358.1" cy="1361.1" r="1.0" fill="#79b460"/>
<circle cx="351.4" cy="1359.7" r="1.0" fill="#79b460"/>
<circle cx="351.4" cy="1357.4" r="1.1" fill="#79b460"/>
<circle cx="348.7" cy="1356.4" r="1.1" fill="#79b460"/>
<circle cx="351.3" cy="1359.1" r="0.9" fill="#79b460"/>
<circle cx="349.2" cy="1355.4" r="1.0" fill="#79b460"/>
<circle cx="347.3" cy="1356.8" r="1.0" fill="#79b460"/>
<circle cx="352.5" cy="1352.9" r="0.9" fill="#79b460"/>
<circle cx="346.6" cy="1356.8" r="1.3" fill="#79b460"/>
<circle cx="350.5" cy="1356.4" r="1.4" fill="#79b460"/>
<circle cx="353.6" cy="1361.4" r="1.3" fill="#79b460"/>
<circle cx="353.3" cy="1362.5" r="0.8" fill="#79b460"/>
<circle cx="347.4" cy="1353.0" r="1.1" fill="#79b460"/>
<circle cx="352.8" cy="1356.9" r="1.2" fill="#79b460"/>
<circle cx="346.5" cy="1356.0" r="1.1" fill="#79b460"/>
<circle cx="355.3" cy="1351.8" r="1.1" fill="#143e14"/>
<circle cx="350.5" cy="1358.4" r="1.3" fill="#143e14"/>
<circle cx="345.4" cy="1351.8" r="1.4" fill="#143e14"/>
<circle cx="350.1" cy="1362.3" r="1.3" fill="#143e14"/>
<circle cx="354.9" cy="1359.5" r="0.9" fill="#143e14"/>
<circle cx="351.2" cy="1359.3" r="1.3" fill="#143e14"/>
<circle cx="352.3" cy="1360.5" r="1.1" fill="#143e14"/>
<circle cx="351.3" cy="1358.4" r="1.1" fill="#143e14"/>
<circle cx="343.3" cy="1356.5" r="1.4" fill="#143e14"/>
<circle cx="352.4" cy="1357.0" r="1.1" fill="#143e14"/>
<circle cx="345.8" cy="1365.0" r="1.5" fill="#143e14"/>
<circle cx="351.7" cy="1360.2" r="1.0" fill="#143e14"/>
<rect x="365.8" y="1348" width="97.5" height="14.3" rx="7" fill="#326f2c"/>
<circle cx="368.8" cy="1350.5" r="3.9" fill="#347430" stroke="#18461a" stroke-width="0.8"/>
<circle cx="369.2" cy="1349.3" r="0.8" fill="#79b460"/>
<circle cx="368.4" cy="1349.8" r="1.1" fill="#79b460"/>
<circle cx="368.8" cy="1355.5" r="4.7" fill="#347430" stroke="#18461a" stroke-width="0.8"/>
<circle cx="368.9" cy="1355.7" r="1.1" fill="#79b460"/>
<circle cx="366.6" cy="1357.1" r="1.2" fill="#79b460"/>
<circle cx="368.8" cy="1360.4" r="4.6" fill="#347430" stroke="#18461a" stroke-width="0.8"/>
<circle cx="368.3" cy="1359.3" r="0.9" fill="#79b460"/>
<circle cx="369.5" cy="1357.6" r="0.8" fill="#79b460"/>
<circle cx="374.6" cy="1350.2" r="3.8" fill="#347430" stroke="#18461a" stroke-width="0.8"/>
<circle cx="372.4" cy="1348.0" r="0.9" fill="#79b460"/>
<circle cx="372.6" cy="1349.8" r="0.8" fill="#79b460"/>
<circle cx="374.6" cy="1355.4" r="4.6" fill="#347430" stroke="#18461a" stroke-width="0.8"/>
<circle cx="372.9" cy="1353.9" r="1.0" fill="#79b460"/>
<circle cx="373.9" cy="1353.3" r="1.2" fill="#79b460"/>
<circle cx="374.6" cy="1359.7" r="4.8" fill="#347430" stroke="#18461a" stroke-width="0.8"/>
<circle cx="374.5" cy="1357.7" r="0.9" fill="#79b460"/>
<circle cx="373.8" cy="1358.6" r="1.2" fill="#79b460"/>
<circle cx="380.4" cy="1351.4" r="3.6" fill="#347430" stroke="#18461a" stroke-width="0.8"/>
<circle cx="380.5" cy="1348.7" r="1.1" fill="#79b460"/>
<circle cx="378.0" cy="1350.6" r="1.3" fill="#79b460"/>
<circle cx="380.4" cy="1355.5" r="4.6" fill="#347430" stroke="#18461a" stroke-width="0.8"/>
<circle cx="379.2" cy="1354.5" r="0.9" fill="#79b460"/>
<circle cx="381.7" cy="1355.3" r="1.2" fill="#79b460"/>
<circle cx="380.4" cy="1359.2" r="4.0" fill="#347430" stroke="#18461a" stroke-width="0.8"/>
<circle cx="381.9" cy="1362.2" r="1.2" fill="#79b460"/>
<circle cx="381.9" cy="1361.4" r="1.2" fill="#79b460"/>
<circle cx="386.2" cy="1350.2" r="4.2" fill="#347430" stroke="#18461a" stroke-width="0.8"/>
<circle cx="383.8" cy="1348.1" r="0.9" fill="#79b460"/>
<circle cx="385.0" cy="1351.5" r="1.3" fill="#79b460"/>
<circle cx="386.2" cy="1356.0" r="4.1" fill="#347430" stroke="#18461a" stroke-width="0.8"/>
<circle cx="388.6" cy="1357.4" r="1.0" fill="#79b460"/>
<circle cx="384.8" cy="1353.8" r="0.9" fill="#79b460"/>
<circle cx="386.2" cy="1360.0" r="3.8" fill="#347430" stroke="#18461a" stroke-width="0.8"/>
<circle cx="388.2" cy="1361.5" r="1.0" fill="#79b460"/>
<circle cx="387.0" cy="1361.3" r="0.8" fill="#79b460"/>
<circle cx="392.7" cy="1351.1" r="4.7" fill="#347430" stroke="#18461a" stroke-width="0.8"/>
<circle cx="393.9" cy="1350.4" r="0.9" fill="#79b460"/>
<circle cx="394.1" cy="1349.7" r="1.2" fill="#79b460"/>
<circle cx="392.7" cy="1354.9" r="4.8" fill="#347430" stroke="#18461a" stroke-width="0.8"/>
<circle cx="392.2" cy="1357.4" r="1.2" fill="#79b460"/>
<circle cx="391.0" cy="1353.3" r="0.9" fill="#79b460"/>
<circle cx="392.7" cy="1360.4" r="4.7" fill="#347430" stroke="#18461a" stroke-width="0.8"/>
<circle cx="390.9" cy="1361.4" r="1.3" fill="#79b460"/>
<circle cx="393.5" cy="1359.1" r="1.1" fill="#79b460"/>
<circle cx="398.4" cy="1351.4" r="3.6" fill="#347430" stroke="#18461a" stroke-width="0.8"/>
<circle cx="399.1" cy="1350.6" r="1.3" fill="#79b460"/>
<circle cx="398.1" cy="1352.4" r="1.2" fill="#79b460"/>
<circle cx="398.4" cy="1354.7" r="3.9" fill="#347430" stroke="#18461a" stroke-width="0.8"/>
<circle cx="397.3" cy="1353.9" r="1.1" fill="#79b460"/>
<circle cx="397.2" cy="1354.7" r="0.9" fill="#79b460"/>
<circle cx="398.4" cy="1359.5" r="4.7" fill="#347430" stroke="#18461a" stroke-width="0.8"/>
<circle cx="398.2" cy="1360.2" r="1.3" fill="#79b460"/>
<circle cx="398.0" cy="1361.9" r="1.1" fill="#79b460"/>
<circle cx="404.7" cy="1349.5" r="4.2" fill="#347430" stroke="#18461a" stroke-width="0.8"/>
<circle cx="404.4" cy="1348.9" r="0.8" fill="#79b460"/>
<circle cx="406.2" cy="1348.9" r="1.0" fill="#79b460"/>
<circle cx="404.7" cy="1355.3" r="4.5" fill="#347430" stroke="#18461a" stroke-width="0.8"/>
<circle cx="403.8" cy="1355.2" r="1.1" fill="#79b460"/>
<circle cx="406.1" cy="1353.2" r="1.1" fill="#79b460"/>
<circle cx="404.7" cy="1359.4" r="3.9" fill="#347430" stroke="#18461a" stroke-width="0.8"/>
<circle cx="406.0" cy="1359.8" r="1.1" fill="#79b460"/>
<circle cx="406.0" cy="1361.9" r="1.0" fill="#79b460"/>
<circle cx="411.1" cy="1350.5" r="4.2" fill="#347430" stroke="#18461a" stroke-width="0.8"/>
<circle cx="412.1" cy="1350.3" r="1.1" fill="#79b460"/>
<circle cx="411.0" cy="1352.7" r="1.1" fill="#79b460"/>
<circle cx="411.1" cy="1356.0" r="4.7" fill="#347430" stroke="#18461a" stroke-width="0.8"/>
<circle cx="409.9" cy="1355.4" r="1.3" fill="#79b460"/>
<circle cx="412.8" cy="1353.3" r="0.9" fill="#79b460"/>
<circle cx="411.1" cy="1358.9" r="4.1" fill="#347430" stroke="#18461a" stroke-width="0.8"/>
<circle cx="409.8" cy="1357.7" r="1.1" fill="#79b460"/>
<circle cx="412.5" cy="1361.8" r="0.9" fill="#79b460"/>
<circle cx="417.7" cy="1349.8" r="4.4" fill="#347430" stroke="#18461a" stroke-width="0.8"/>
<circle cx="419.6" cy="1352.8" r="0.9" fill="#79b460"/>
<circle cx="419.9" cy="1350.0" r="1.0" fill="#79b460"/>
<circle cx="417.7" cy="1355.8" r="4.8" fill="#347430" stroke="#18461a" stroke-width="0.8"/>
<circle cx="416.0" cy="1354.8" r="1.1" fill="#79b460"/>
<circle cx="416.9" cy="1353.6" r="1.0" fill="#79b460"/>
<circle cx="417.7" cy="1358.8" r="4.5" fill="#347430" stroke="#18461a" stroke-width="0.8"/>
<circle cx="417.9" cy="1359.5" r="0.8" fill="#79b460"/>
<circle cx="416.8" cy="1360.4" r="1.1" fill="#79b460"/>
<circle cx="423.3" cy="1351.1" r="4.8" fill="#347430" stroke="#18461a" stroke-width="0.8"/>
<circle cx="425.6" cy="1348.5" r="0.9" fill="#79b460"/>
<circle cx="421.0" cy="1351.9" r="0.9" fill="#79b460"/>
<circle cx="423.3" cy="1355.0" r="3.8" fill="#347430" stroke="#18461a" stroke-width="0.8"/>
<circle cx="425.3" cy="1356.7" r="0.9" fill="#79b460"/>
<circle cx="421.5" cy="1357.2" r="1.1" fill="#79b460"/>
<circle cx="423.3" cy="1359.0" r="4.4" fill="#347430" stroke="#18461a" stroke-width="0.8"/>
<circle cx="421.1" cy="1360.7" r="1.0" fill="#79b460"/>
<circle cx="421.1" cy="1362.0" r="1.1" fill="#79b460"/>
<circle cx="430.0" cy="1351.2" r="3.7" fill="#347430" stroke="#18461a" stroke-width="0.8"/>
<circle cx="427.8" cy="1352.3" r="1.0" fill="#79b460"/>
<circle cx="429.2" cy="1350.8" r="1.3" fill="#79b460"/>
<circle cx="430.0" cy="1354.4" r="3.9" fill="#347430" stroke="#18461a" stroke-width="0.8"/>
<circle cx="430.1" cy="1353.8" r="0.9" fill="#79b460"/>
<circle cx="428.3" cy="1352.9" r="0.9" fill="#79b460"/>
<circle cx="430.0" cy="1359.4" r="4.0" fill="#347430" stroke="#18461a" stroke-width="0.8"/>
<circle cx="431.3" cy="1358.7" r="1.1" fill="#79b460"/>
<circle cx="428.4" cy="1359.0" r="0.8" fill="#79b460"/>
<circle cx="435.8" cy="1351.0" r="3.6" fill="#347430" stroke="#18461a" stroke-width="0.8"/>
<circle cx="436.1" cy="1348.9" r="1.0" fill="#79b460"/>
<circle cx="438.0" cy="1348.5" r="1.2" fill="#79b460"/>
<circle cx="435.8" cy="1355.1" r="4.1" fill="#347430" stroke="#18461a" stroke-width="0.8"/>
<circle cx="437.5" cy="1354.6" r="1.1" fill="#79b460"/>
<circle cx="436.8" cy="1357.6" r="1.0" fill="#79b460"/>
<circle cx="435.8" cy="1360.2" r="4.6" fill="#347430" stroke="#18461a" stroke-width="0.8"/>
<circle cx="436.5" cy="1359.3" r="1.0" fill="#79b460"/>
<circle cx="433.6" cy="1357.9" r="0.8" fill="#79b460"/>
<circle cx="442.5" cy="1349.8" r="3.9" fill="#347430" stroke="#18461a" stroke-width="0.8"/>
<circle cx="440.4" cy="1352.2" r="1.2" fill="#79b460"/>
<circle cx="443.3" cy="1349.4" r="0.9" fill="#79b460"/>
<circle cx="442.5" cy="1355.1" r="4.0" fill="#347430" stroke="#18461a" stroke-width="0.8"/>
<circle cx="440.7" cy="1354.9" r="0.9" fill="#79b460"/>
<circle cx="444.8" cy="1357.5" r="1.1" fill="#79b460"/>
<circle cx="442.5" cy="1360.7" r="3.9" fill="#347430" stroke="#18461a" stroke-width="0.8"/>
<circle cx="441.5" cy="1359.1" r="0.8" fill="#79b460"/>
<circle cx="441.9" cy="1359.7" r="1.1" fill="#79b460"/>
<circle cx="448.3" cy="1349.5" r="4.2" fill="#347430" stroke="#18461a" stroke-width="0.8"/>
<circle cx="447.1" cy="1348.4" r="1.0" fill="#79b460"/>
<circle cx="446.0" cy="1348.1" r="1.0" fill="#79b460"/>
<circle cx="448.3" cy="1355.3" r="3.9" fill="#347430" stroke="#18461a" stroke-width="0.8"/>
<circle cx="448.4" cy="1356.4" r="1.1" fill="#79b460"/>
<circle cx="449.3" cy="1357.0" r="1.0" fill="#79b460"/>
<circle cx="448.3" cy="1360.8" r="4.0" fill="#347430" stroke="#18461a" stroke-width="0.8"/>
<circle cx="446.5" cy="1360.9" r="1.1" fill="#79b460"/>
<circle cx="446.0" cy="1361.5" r="1.2" fill="#79b460"/>
<circle cx="454.7" cy="1351.1" r="4.5" fill="#347430" stroke="#18461a" stroke-width="0.8"/>
<circle cx="452.9" cy="1350.6" r="1.1" fill="#79b460"/>
<circle cx="456.4" cy="1352.0" r="1.2" fill="#79b460"/>
<circle cx="454.7" cy="1355.9" r="4.3" fill="#347430" stroke="#18461a" stroke-width="0.8"/>
<circle cx="455.6" cy="1356.1" r="0.9" fill="#79b460"/>
<circle cx="452.4" cy="1353.3" r="1.0" fill="#79b460"/>
<circle cx="454.7" cy="1360.5" r="3.7" fill="#347430" stroke="#18461a" stroke-width="0.8"/>
<circle cx="455.0" cy="1360.4" r="1.1" fill="#79b460"/>
<circle cx="455.6" cy="1359.7" r="0.8" fill="#79b460"/>
<circle cx="482.6" cy="1357.8" r="10.5" fill="#2a6626" stroke="#174a16" stroke-width="0.8"/>
<circle cx="482.5" cy="1353.3" r="1.1" fill="#79b460"/>
<circle cx="482.3" cy="1357.3" r="1.2" fill="#79b460"/>
<circle cx="482.6" cy="1358.5" r="1.0" fill="#79b460"/>
<circle cx="482.4" cy="1356.0" r="1.2" fill="#79b460"/>
<circle cx="487.0" cy="1357.1" r="1.0" fill="#79b460"/>
<circle cx="476.6" cy="1358.6" r="1.3" fill="#79b460"/>
<circle cx="478.3" cy="1354.0" r="0.8" fill="#79b460"/>
<circle cx="484.0" cy="1359.6" r="1.2" fill="#79b460"/>
<circle cx="480.9" cy="1362.6" r="0.8" fill="#79b460"/>
<circle cx="484.8" cy="1358.7" r="1.2" fill="#79b460"/>
<circle cx="480.4" cy="1352.2" r="1.0" fill="#79b460"/>
<circle cx="478.5" cy="1357.4" r="1.1" fill="#79b460"/>
<circle cx="488.5" cy="1363.2" r="0.9" fill="#79b460"/>
<circle cx="490.9" cy="1356.6" r="0.8" fill="#79b460"/>
<circle cx="475.5" cy="1359.7" r="1.4" fill="#79b460"/>
<circle cx="480.3" cy="1358.6" r="0.9" fill="#79b460"/>
<circle cx="484.4" cy="1357.2" r="1.1" fill="#79b460"/>
<circle cx="485.5" cy="1361.4" r="1.4" fill="#79b460"/>
<circle cx="487.5" cy="1363.2" r="1.1" fill="#79b460"/>
<circle cx="487.3" cy="1353.7" r="0.9" fill="#79b460"/>
<circle cx="486.1" cy="1355.2" r="0.8" fill="#79b460"/>
<circle cx="487.0" cy="1357.9" r="1.1" fill="#79b460"/>
<circle cx="482.2" cy="1359.0" r="1.0" fill="#143e14"/>
<circle cx="479.6" cy="1364.7" r="0.8" fill="#143e14"/>
<circle cx="482.6" cy="1350.3" r="0.9" fill="#143e14"/>
<circle cx="488.3" cy="1354.9" r="1.4" fill="#143e14"/>
<circle cx="481.8" cy="1361.0" r="1.1" fill="#143e14"/>
<circle cx="487.9" cy="1357.7" r="1.1" fill="#143e14"/>
<circle cx="480.4" cy="1358.9" r="0.8" fill="#143e14"/>
<circle cx="488.6" cy="1362.2" r="1.0" fill="#143e14"/>
<circle cx="484.6" cy="1356.9" r="1.0" fill="#143e14"/>
<circle cx="480.9" cy="1357.7" r="1.1" fill="#143e14"/>
<circle cx="490.2" cy="1355.6" r="1.4" fill="#143e14"/>
<circle cx="477.0" cy="1351.8" r="1.5" fill="#143e14"/>
<circle cx="382.1" cy="1376.6" r="10.5" fill="#2a6626" stroke="#174a16" stroke-width="0.8"/>
<circle cx="376.0" cy="1374.7" r="0.8" fill="#79b460"/>
<circle cx="381.6" cy="1372.6" r="1.3" fill="#79b460"/>
<circle cx="380.5" cy="1374.6" r="0.8" fill="#79b460"/>
<circle cx="383.1" cy="1376.1" r="1.1" fill="#79b460"/>
<circle cx="380.6" cy="1378.8" r="1.2" fill="#79b460"/>
<circle cx="384.4" cy="1376.2" r="1.2" fill="#79b460"/>
<circle cx="380.5" cy="1381.3" r="1.0" fill="#79b460"/>
<circle cx="382.8" cy="1377.9" r="0.9" fill="#79b460"/>
<circle cx="385.8" cy="1374.1" r="0.9" fill="#79b460"/>
<circle cx="389.5" cy="1371.6" r="1.1" fill="#79b460"/>
<circle cx="383.2" cy="1377.9" r="0.9" fill="#79b460"/>
<circle cx="381.7" cy="1377.3" r="0.9" fill="#79b460"/>
<circle cx="381.8" cy="1381.7" r="1.3" fill="#79b460"/>
<circle cx="382.1" cy="1372.9" r="1.0" fill="#79b460"/>
<circle cx="378.8" cy="1376.1" r="1.0" fill="#79b460"/>
<circle cx="384.4" cy="1377.5" r="1.4" fill="#79b460"/>
<circle cx="385.3" cy="1379.8" r="1.2" fill="#79b460"/>
<circle cx="383.4" cy="1375.1" r="1.0" fill="#79b460"/>
<circle cx="382.1" cy="1380.2" r="1.1" fill="#79b460"/>
<circle cx="389.4" cy="1374.4" r="1.3" fill="#79b460"/>
<circle cx="382.4" cy="1376.6" r="1.2" fill="#79b460"/>
<circle cx="385.4" cy="1374.0" r="1.2" fill="#79b460"/>
<circle cx="385.6" cy="1376.6" r="1.4" fill="#143e14"/>
<circle cx="385.6" cy="1369.8" r="1.5" fill="#143e14"/>
<circle cx="382.1" cy="1377.6" r="0.9" fill="#143e14"/>
<circle cx="376.1" cy="1375.8" r="1.5" fill="#143e14"/>
<circle cx="381.1" cy="1370.9" r="1.3" fill="#143e14"/>
<circle cx="377.4" cy="1377.9" r="0.8" fill="#143e14"/>
<circle cx="382.5" cy="1374.6" r="1.4" fill="#143e14"/>
<circle cx="380.4" cy="1374.5" r="0.9" fill="#143e14"/>
<circle cx="382.0" cy="1382.3" r="1.3" fill="#143e14"/>
<circle cx="382.6" cy="1377.0" r="1.2" fill="#143e14"/>
<circle cx="379.1" cy="1374.9" r="1.0" fill="#143e14"/>
<circle cx="382.0" cy="1376.5" r="1.0" fill="#143e14"/>
<rect x="403.6" y="1367.4" width="96.4" height="14.4" rx="7" fill="#326f2c"/>
<circle cx="406.6" cy="1370.8" r="4.2" fill="#347430" stroke="#18461a" stroke-width="0.8"/>
<circle cx="407.3" cy="1371.8" r="1.0" fill="#79b460"/>
<circle cx="405.3" cy="1368.6" r="1.3" fill="#79b460"/>
<circle cx="406.6" cy="1374.2" r="4.4" fill="#347430" stroke="#18461a" stroke-width="0.8"/>
<circle cx="404.2" cy="1374.6" r="1.1" fill="#79b460"/>
<circle cx="406.2" cy="1373.4" r="1.1" fill="#79b460"/>
<circle cx="406.6" cy="1378.8" r="4.7" fill="#347430" stroke="#18461a" stroke-width="0.8"/>
<circle cx="404.3" cy="1378.5" r="1.0" fill="#79b460"/>
<circle cx="407.5" cy="1377.8" r="1.2" fill="#79b460"/>
<circle cx="413.2" cy="1369.3" r="4.2" fill="#347430" stroke="#18461a" stroke-width="0.8"/>
<circle cx="415.6" cy="1369.0" r="1.2" fill="#79b460"/>
<circle cx="411.9" cy="1368.5" r="1.2" fill="#79b460"/>
<circle cx="413.2" cy="1375.5" r="4.0" fill="#347430" stroke="#18461a" stroke-width="0.8"/>
<circle cx="413.2" cy="1373.0" r="0.9" fill="#79b460"/>
<circle cx="412.8" cy="1375.4" r="1.3" fill="#79b460"/>
<circle cx="413.2" cy="1379.1" r="3.8" fill="#347430" stroke="#18461a" stroke-width="0.8"/>
<circle cx="411.8" cy="1381.7" r="0.9" fill="#79b460"/>
<circle cx="411.0" cy="1377.1" r="1.0" fill="#79b460"/>
<circle cx="420.1" cy="1370.4" r="4.7" fill="#347430" stroke="#18461a" stroke-width="0.8"/>
<circle cx="422.5" cy="1372.1" r="1.0" fill="#79b460"/>
<circle cx="418.5" cy="1372.1" r="1.2" fill="#79b460"/>
<circle cx="420.1" cy="1374.9" r="3.6" fill="#347430" stroke="#18461a" stroke-width="0.8"/>
<circle cx="419.4" cy="1374.0" r="1.0" fill="#79b460"/>
<circle cx="418.4" cy="1372.1" r="0.9" fill="#79b460"/>
<circle cx="420.1" cy="1380.2" r="4.0" fill="#347430" stroke="#18461a" stroke-width="0.8"/>
<circle cx="418.2" cy="1381.6" r="0.9" fill="#79b460"/>
<circle cx="419.3" cy="1380.9" r="1.2" fill="#79b460"/>
<circle cx="426.2" cy="1369.8" r="3.7" fill="#347430" stroke="#18461a" stroke-width="0.8"/>
<circle cx="425.6" cy="1372.0" r="0.9" fill="#79b460"/>
<circle cx="425.5" cy="1371.9" r="0.8" fill="#79b460"/>
<circle cx="426.2" cy="1375.2" r="4.1" fill="#347430" stroke="#18461a" stroke-width="0.8"/>
<circle cx="427.5" cy="1372.3" r="0.8" fill="#79b460"/>
<circle cx="424.0" cy="1376.7" r="0.9" fill="#79b460"/>
<circle cx="426.2" cy="1380.1" r="4.5" fill="#347430" stroke="#18461a" stroke-width="0.8"/>
<circle cx="425.4" cy="1378.2" r="1.3" fill="#79b460"/>
<circle cx="426.8" cy="1378.1" r="1.2" fill="#79b460"/>
<circle cx="432.2" cy="1368.9" r="3.9" fill="#347430" stroke="#18461a" stroke-width="0.8"/>
<circle cx="433.5" cy="1372.0" r="1.1" fill="#79b460"/>
<circle cx="434.4" cy="1367.5" r="0.9" fill="#79b460"/>
<circle cx="432.2" cy="1375.5" r="4.2" fill="#347430" stroke="#18461a" stroke-width="0.8"/>
<circle cx="434.4" cy="1374.0" r="0.9" fill="#79b460"/>
<circle cx="431.8" cy="1374.6" r="1.3" fill="#79b460"/>
<circle cx="432.2" cy="1379.9" r="3.8" fill="#347430" stroke="#18461a" stroke-width="0.8"/>
<circle cx="433.4" cy="1380.9" r="1.2" fill="#79b460"/>
<circle cx="432.7" cy="1378.4" r="1.0" fill="#79b460"/>
<circle cx="438.2" cy="1369.1" r="4.5" fill="#347430" stroke="#18461a" stroke-width="0.8"/>
<circle cx="436.7" cy="1371.2" r="0.9" fill="#79b460"/>
<circle cx="436.0" cy="1367.6" r="1.1" fill="#79b460"/>
<circle cx="438.2" cy="1375.6" r="4.0" fill="#347430" stroke="#18461a" stroke-width="0.8"/>
<circle cx="440.1" cy="1377.0" r="0.9" fill="#79b460"/>
<circle cx="436.1" cy="1372.6" r="1.0" fill="#79b460"/>
<circle cx="438.2" cy="1379.2" r="4.5" fill="#347430" stroke="#18461a" stroke-width="0.8"/>
<circle cx="436.9" cy="1378.9" r="1.1" fill="#79b460"/>
<circle cx="439.1" cy="1380.5" r="1.2" fill="#79b460"/>
<circle cx="444.7" cy="1370.6" r="3.7" fill="#347430" stroke="#18461a" stroke-width="0.8"/>
<circle cx="443.7" cy="1370.2" r="1.0" fill="#79b460"/>
<circle cx="445.9" cy="1368.4" r="0.9" fill="#79b460"/>
<circle cx="444.7" cy="1373.9" r="3.9" fill="#347430" stroke="#18461a" stroke-width="0.8"/>
<circle cx="446.6" cy="1375.0" r="1.0" fill="#79b460"/>
<circle cx="444.2" cy="1377.1" r="1.1" fill="#79b460"/>
<circle cx="444.7" cy="1379.9" r="3.9" fill="#347430" stroke="#18461a" stroke-width="0.8"/>
<circle cx="445.5" cy="1381.8" r="0.9" fill="#79b460"/>
<circle cx="444.6" cy="1380.9" r="1.2" fill="#79b460"/>
<circle cx="451.6" cy="1369.5" r="3.6" fill="#347430" stroke="#18461a" stroke-width="0.8"/>
<circle cx="449.7" cy="1368.3" r="1.3" fill="#79b460"/>
<circle cx="452.0" cy="1372.1" r="1.0" fill="#79b460"/>
<circle cx="451.6" cy="1374.5" r="4.6" fill="#347430" stroke="#18461a" stroke-width="0.8"/>
<circle cx="450.4" cy="1376.0" r="1.3" fill="#79b460"/>
<circle cx="449.6" cy="1375.1" r="1.1" fill="#79b460"/>
<circle cx="451.6" cy="1379.0" r="3.9" fill="#347430" stroke="#18461a" stroke-width="0.8"/>
<circle cx="449.8" cy="1377.8" r="0.9" fill="#79b460"/>
<circle cx="452.1" cy="1380.1" r="0.9" fill="#79b460"/>
<circle cx="457.1" cy="1370.3" r="4.0" fill="#347430" stroke="#18461a" stroke-width="0.8"/>
<circle cx="455.5" cy="1369.0" r="0.9" fill="#79b460"/>
<circle cx="458.6" cy="1370.1" r="0.8" fill="#79b460"/>
<circle cx="457.1" cy="1374.4" r="3.7" fill="#347430" stroke="#18461a" stroke-width="0.8"/>
<circle cx="457.4" cy="1375.3" r="0.8" fill="#79b460"/>
<circle cx="455.4" cy="1375.6" r="1.0" fill="#79b460"/>
<circle cx="457.1" cy="1378.9" r="3.9" fill="#347430" stroke="#18461a" stroke-width="0.8"/>
<circle cx="459.4" cy="1378.4" r="1.1" fill="#79b460"/>
<circle cx="456.4" cy="1378.9" r="1.2" fill="#79b460"/>
<circle cx="464.1" cy="1369.3" r="4.0" fill="#347430" stroke="#18461a" stroke-width="0.8"/>
<circle cx="465.2" cy="1368.4" r="0.8" fill="#79b460"/>
<circle cx="466.1" cy="1369.5" r="1.2" fill="#79b460"/>
<circle cx="464.1" cy="1375.4" r="4.1" fill="#347430" stroke="#18461a" stroke-width="0.8"/>
<circle cx="463.9" cy="1372.9" r="0.8" fill="#79b460"/>
<circle cx="464.4" cy="1375.3" r="1.3" fill="#79b460"/>
<circle cx="464.1" cy="1379.5" r="3.7" fill="#347430" stroke="#18461a" stroke-width="0.8"/>
<circle cx="463.5" cy="1379.3" r="0.9" fill="#79b460"/>
<circle cx="463.0" cy="1379.4" r="1.3" fill="#79b460"/>
<circle cx="469.8" cy="1370.5" r="4.2" fill="#347430" stroke="#18461a" stroke-width="0.8"/>
<circle cx="472.1" cy="1368.4" r="0.9" fill="#79b460"/>
<circle cx="472.0" cy="1372.3" r="1.0" fill="#79b460"/>
<circle cx="469.8" cy="1375.5" r="3.7" fill="#347430" stroke="#18461a" stroke-width="0.8"/>
<circle cx="469.2" cy="1376.6" r="1.1" fill="#79b460"/>
<circle cx="471.4" cy="1372.9" r="1.2" fill="#79b460"/>
<circle cx="469.8" cy="1379.1" r="3.9" fill="#347430" stroke="#18461a" stroke-width="0.8"/>
<circle cx="471.5" cy="1380.9" r="0.9" fill="#79b460"/>
<circle cx="468.4" cy="1378.8" r="1.1" fill="#79b460"/>
<circle cx="475.8" cy="1369.4" r="3.7" fill="#347430" stroke="#18461a" stroke-width="0.8"/>
<circle cx="477.0" cy="1371.9" r="0.8" fill="#79b460"/>
<circle cx="476.2" cy="1371.2" r="0.8" fill="#79b460"/>
<circle cx="475.8" cy="1373.8" r="4.6" fill="#347430" stroke="#18461a" stroke-width="0.8"/>
<circle cx="476.3" cy="1374.9" r="1.1" fill="#79b460"/>
<circle cx="474.9" cy="1374.2" r="1.1" fill="#79b460"/>
<circle cx="475.8" cy="1379.6" r="4.1" fill="#347430" stroke="#18461a" stroke-width="0.8"/>
<circle cx="475.6" cy="1379.0" r="0.8" fill="#79b460"/>
<circle cx="476.4" cy="1379.2" r="0.9" fill="#79b460"/>
<circle cx="482.5" cy="1369.8" r="4.5" fill="#347430" stroke="#18461a" stroke-width="0.8"/>
<circle cx="480.9" cy="1369.8" r="0.9" fill="#79b460"/>
<circle cx="480.6" cy="1369.6" r="0.8" fill="#79b460"/>
<circle cx="482.5" cy="1374.6" r="4.1" fill="#347430" stroke="#18461a" stroke-width="0.8"/>
<circle cx="480.2" cy="1375.3" r="0.8" fill="#79b460"/>
<circle cx="483.7" cy="1376.0" r="1.1" fill="#79b460"/>
<circle cx="482.5" cy="1379.3" r="3.7" fill="#347430" stroke="#18461a" stroke-width="0.8"/>
<circle cx="481.9" cy="1381.6" r="0.9" fill="#79b460"/>
<circle cx="484.3" cy="1381.8" r="1.2" fill="#79b460"/>
<circle cx="489.2" cy="1370.9" r="3.8" fill="#347430" stroke="#18461a" stroke-width="0.8"/>
<circle cx="489.2" cy="1372.2" r="1.3" fill="#79b460"/>
<circle cx="487.5" cy="1371.3" r="1.3" fill="#79b460"/>
<circle cx="489.2" cy="1374.3" r="3.7" fill="#347430" stroke="#18461a" stroke-width="0.8"/>
<circle cx="490.5" cy="1372.9" r="1.2" fill="#79b460"/>
<circle cx="488.1" cy="1376.2" r="0.9" fill="#79b460"/>
<circle cx="489.2" cy="1380.1" r="4.2" fill="#347430" stroke="#18461a" stroke-width="0.8"/>
<circle cx="487.8" cy="1378.1" r="1.1" fill="#79b460"/>
<circle cx="488.3" cy="1377.0" r="0.9" fill="#79b460"/>
<circle cx="495.0" cy="1370.3" r="4.7" fill="#347430" stroke="#18461a" stroke-width="0.8"/>
<circle cx="496.9" cy="1368.2" r="1.2" fill="#79b460"/>
<circle cx="493.0" cy="1370.1" r="1.1" fill="#79b460"/>
<circle cx="495.0" cy="1375.3" r="4.0" fill="#347430" stroke="#18461a" stroke-width="0.8"/>
<circle cx="495.2" cy="1375.0" r="1.2" fill="#79b460"/>
<circle cx="493.0" cy="1377.1" r="1.1" fill="#79b460"/>
<circle cx="495.0" cy="1379.9" r="4.1" fill="#347430" stroke="#18461a" stroke-width="0.8"/>
<circle cx="493.8" cy="1381.8" r="1.1" fill="#79b460"/>
<circle cx="494.3" cy="1380.6" r="1.0" fill="#79b460"/>
<rect x="343" y="1389" width="157" height="15.4" rx="7" fill="#326f2c"/>
<circle cx="346.0" cy="1390.6" r="4.5" fill="#347430" stroke="#18461a" stroke-width="0.8"/>
<circle cx="347.6" cy="1390.3" r="1.1" fill="#79b460"/>
<circle cx="348.4" cy="1391.9" r="1.1" fill="#79b460"/>
<circle cx="346.0" cy="1395.7" r="4.0" fill="#347430" stroke="#18461a" stroke-width="0.8"/>
<circle cx="343.7" cy="1394.9" r="1.1" fill="#79b460"/>
<circle cx="345.7" cy="1396.8" r="1.2" fill="#79b460"/>
<circle cx="346.0" cy="1401.4" r="3.8" fill="#347430" stroke="#18461a" stroke-width="0.8"/>
<circle cx="346.8" cy="1399.5" r="0.8" fill="#79b460"/>
<circle cx="345.3" cy="1399.9" r="1.0" fill="#79b460"/>
<circle cx="351.8" cy="1391.7" r="4.3" fill="#347430" stroke="#18461a" stroke-width="0.8"/>
<circle cx="350.4" cy="1392.1" r="1.0" fill="#79b460"/>
<circle cx="350.0" cy="1393.7" r="0.9" fill="#79b460"/>
<circle cx="351.8" cy="1395.9" r="3.8" fill="#347430" stroke="#18461a" stroke-width="0.8"/>
<circle cx="352.5" cy="1398.6" r="1.2" fill="#79b460"/>
<circle cx="351.3" cy="1395.5" r="0.8" fill="#79b460"/>
<circle cx="351.8" cy="1402.0" r="4.4" fill="#347430" stroke="#18461a" stroke-width="0.8"/>
<circle cx="351.1" cy="1402.6" r="1.0" fill="#79b460"/>
<circle cx="354.0" cy="1403.1" r="0.9" fill="#79b460"/>
<circle cx="358.7" cy="1391.6" r="3.7" fill="#347430" stroke="#18461a" stroke-width="0.8"/>
<circle cx="358.2" cy="1390.2" r="0.8" fill="#79b460"/>
<circle cx="360.1" cy="1389.1" r="1.1" fill="#79b460"/>
<circle cx="358.7" cy="1396.0" r="4.7" fill="#347430" stroke="#18461a" stroke-width="0.8"/>
<circle cx="357.2" cy="1397.2" r="1.1" fill="#79b460"/>
<circle cx="359.4" cy="1398.3" r="0.9" fill="#79b460"/>
<circle cx="358.7" cy="1401.5" r="4.0" fill="#347430" stroke="#18461a" stroke-width="0.8"/>
<circle cx="356.4" cy="1403.8" r="1.2" fill="#79b460"/>
<circle cx="359.8" cy="1399.4" r="1.2" fill="#79b460"/>
<circle cx="365.3" cy="1392.0" r="4.2" fill="#347430" stroke="#18461a" stroke-width="0.8"/>
<circle cx="365.1" cy="1390.1" r="0.9" fill="#79b460"/>
<circle cx="364.0" cy="1389.2" r="1.0" fill="#79b460"/>
<circle cx="365.3" cy="1397.1" r="4.5" fill="#347430" stroke="#18461a" stroke-width="0.8"/>
<circle cx="367.0" cy="1397.8" r="0.9" fill="#79b460"/>
<circle cx="365.6" cy="1396.4" r="1.2" fill="#79b460"/>
<circle cx="365.3" cy="1401.4" r="4.2" fill="#347430" stroke="#18461a" stroke-width="0.8"/>
<circle cx="366.0" cy="1404.2" r="0.9" fill="#79b460"/>
<circle cx="367.2" cy="1399.5" r="0.9" fill="#79b460"/>
<circle cx="371.2" cy="1392.4" r="4.5" fill="#347430" stroke="#18461a" stroke-width="0.8"/>
<circle cx="372.4" cy="1390.6" r="1.2" fill="#79b460"/>
<circle cx="370.3" cy="1390.2" r="1.3" fill="#79b460"/>
<circle cx="371.2" cy="1397.1" r="4.4" fill="#347430" stroke="#18461a" stroke-width="0.8"/>
<circle cx="372.0" cy="1399.1" r="1.0" fill="#79b460"/>
<circle cx="372.9" cy="1397.7" r="1.2" fill="#79b460"/>
<circle cx="371.2" cy="1402.3" r="4.1" fill="#347430" stroke="#18461a" stroke-width="0.8"/>
<circle cx="371.5" cy="1400.9" r="0.9" fill="#79b460"/>
<circle cx="371.8" cy="1399.8" r="1.3" fill="#79b460"/>
<circle cx="376.9" cy="1390.7" r="3.6" fill="#347430" stroke="#18461a" stroke-width="0.8"/>
<circle cx="379.0" cy="1390.7" r="0.9" fill="#79b460"/>
<circle cx="374.5" cy="1389.2" r="1.1" fill="#79b460"/>
<circle cx="376.9" cy="1397.1" r="4.4" fill="#347430" stroke="#18461a" stroke-width="0.8"/>
<circle cx="378.1" cy="1394.5" r="1.1" fill="#79b460"/>
<circle cx="376.2" cy="1398.3" r="1.2" fill="#79b460"/>
<circle cx="376.9" cy="1401.0" r="4.7" fill="#347430" stroke="#18461a" stroke-width="0.8"/>
<circle cx="378.7" cy="1404.0" r="1.3" fill="#79b460"/>
<circle cx="374.9" cy="1400.4" r="0.9" fill="#79b460"/>
<circle cx="382.4" cy="1392.1" r="4.6" fill="#347430" stroke="#18461a" stroke-width="0.8"/>
<circle cx="383.1" cy="1393.1" r="1.1" fill="#79b460"/>
<circle cx="381.4" cy="1389.5" r="0.8" fill="#79b460"/>
<circle cx="382.4" cy="1396.1" r="4.5" fill="#347430" stroke="#18461a" stroke-width="0.8"/>
<circle cx="381.5" cy="1396.3" r="0.8" fill="#79b460"/>
<circle cx="381.2" cy="1395.6" r="1.2" fill="#79b460"/>
<circle cx="382.4" cy="1401.5" r="4.0" fill="#347430" stroke="#18461a" stroke-width="0.8"/>
<circle cx="384.8" cy="1401.9" r="1.2" fill="#79b460"/>
<circle cx="383.0" cy="1399.6" r="1.0" fill="#79b460"/>
<circle cx="388.6" cy="1391.2" r="4.5" fill="#347430" stroke="#18461a" stroke-width="0.8"/>
<circle cx="389.6" cy="1391.7" r="0.9" fill="#79b460"/>
<circle cx="390.4" cy="1389.5" r="1.2" fill="#79b460"/>
<circle cx="388.6" cy="1395.7" r="3.8" fill="#347430" stroke="#18461a" stroke-width="0.8"/>
<circle cx="387.1" cy="1398.0" r="1.3" fill="#79b460"/>
<circle cx="386.1" cy="1396.7" r="1.0" fill="#79b460"/>
<circle cx="388.6" cy="1401.3" r="4.6" fill="#347430" stroke="#18461a" stroke-width="0.8"/>
<circle cx="388.6" cy="1401.1" r="1.2" fill="#79b460"/>
<circle cx="387.4" cy="1404.1" r="0.9" fill="#79b460"/>
<circle cx="394.4" cy="1391.5" r="4.4" fill="#347430" stroke="#18461a" stroke-width="0.8"/>
<circle cx="392.5" cy="1392.2" r="0.8" fill="#79b460"/>
<circle cx="395.8" cy="1392.5" r="1.2" fill="#79b460"/>
<circle cx="394.4" cy="1396.4" r="4.4" fill="#347430" stroke="#18461a" stroke-width="0.8"/>
<circle cx="393.9" cy="1396.2" r="1.2" fill="#79b460"/>
<circle cx="392.3" cy="1398.6" r="0.8" fill="#79b460"/>
<circle cx="394.4" cy="1401.4" r="3.8" fill="#347430" stroke="#18461a" stroke-width="0.8"/>
<circle cx="396.4" cy="1401.9" r="1.0" fill="#79b460"/>
<circle cx="396.3" cy="1400.6" r="1.0" fill="#79b460"/>
<circle cx="400.7" cy="1392.0" r="4.5" fill="#347430" stroke="#18461a" stroke-width="0.8"/>
<circle cx="401.4" cy="1390.7" r="1.0" fill="#79b460"/>
<circle cx="399.0" cy="1393.2" r="1.1" fill="#79b460"/>
<circle cx="400.7" cy="1396.0" r="4.5" fill="#347430" stroke="#18461a" stroke-width="0.8"/>
<circle cx="400.4" cy="1398.1" r="1.1" fill="#79b460"/>
<circle cx="398.8" cy="1396.5" r="1.2" fill="#79b460"/>
<circle cx="400.7" cy="1401.3" r="3.9" fill="#347430" stroke="#18461a" stroke-width="0.8"/>
<circle cx="399.7" cy="1402.9" r="1.2" fill="#79b460"/>
<circle cx="399.0" cy="1400.2" r="0.9" fill="#79b460"/>
<circle cx="406.7" cy="1390.8" r="4.2" fill="#347430" stroke="#18461a" stroke-width="0.8"/>
<circle cx="405.8" cy="1389.9" r="1.3" fill="#79b460"/>
<circle cx="407.8" cy="1389.5" r="1.3" fill="#79b460"/>
<circle cx="406.7" cy="1396.5" r="3.7" fill="#347430" stroke="#18461a" stroke-width="0.8"/>
<circle cx="409.1" cy="1398.2" r="1.2" fill="#79b460"/>
<circle cx="406.4" cy="1395.2" r="1.1" fill="#79b460"/>
<circle cx="406.7" cy="1401.3" r="3.7" fill="#347430" stroke="#18461a" stroke-width="0.8"/>
<circle cx="406.1" cy="1399.6" r="1.0" fill="#79b460"/>
<circle cx="408.2" cy="1402.9" r="1.1" fill="#79b460"/>
<circle cx="413.1" cy="1390.8" r="4.2" fill="#347430" stroke="#18461a" stroke-width="0.8"/>
<circle cx="413.7" cy="1391.0" r="1.2" fill="#79b460"/>
<circle cx="415.2" cy="1391.2" r="1.1" fill="#79b460"/>
<circle cx="413.1" cy="1396.5" r="4.5" fill="#347430" stroke="#18461a" stroke-width="0.8"/>
<circle cx="411.8" cy="1397.8" r="1.2" fill="#79b460"/>
<circle cx="414.5" cy="1397.7" r="1.2" fill="#79b460"/>
<circle cx="413.1" cy="1402.2" r="4.4" fill="#347430" stroke="#18461a" stroke-width="0.8"/>
<circle cx="412.9" cy="1401.0" r="1.1" fill="#79b460"/>
<circle cx="411.1" cy="1401.5" r="1.2" fill="#79b460"/>
<circle cx="419.7" cy="1391.0" r="4.4" fill="#347430" stroke="#18461a" stroke-width="0.8"/>
<circle cx="419.3" cy="1391.3" r="1.1" fill="#79b460"/>
<circle cx="419.3" cy="1392.4" r="1.3" fill="#79b460"/>
<circle cx="419.7" cy="1397.0" r="3.8" fill="#347430" stroke="#18461a" stroke-width="0.8"/>
<circle cx="421.1" cy="1396.1" r="1.0" fill="#79b460"/>
<circle cx="422.1" cy="1394.4" r="1.1" fill="#79b460"/>
<circle cx="419.7" cy="1402.5" r="3.8" fill="#347430" stroke="#18461a" stroke-width="0.8"/>
<circle cx="421.9" cy="1402.0" r="0.9" fill="#79b460"/>
<circle cx="420.1" cy="1402.1" r="1.2" fill="#79b460"/>
<circle cx="426.0" cy="1392.2" r="4.4" fill="#347430" stroke="#18461a" stroke-width="0.8"/>
<circle cx="426.1" cy="1391.1" r="1.3" fill="#79b460"/>
<circle cx="424.5" cy="1392.4" r="1.0" fill="#79b460"/>
<circle cx="426.0" cy="1395.9" r="4.5" fill="#347430" stroke="#18461a" stroke-width="0.8"/>
<circle cx="428.4" cy="1396.0" r="0.8" fill="#79b460"/>
<circle cx="424.9" cy="1396.2" r="0.8" fill="#79b460"/>
<circle cx="426.0" cy="1401.7" r="4.1" fill="#347430" stroke="#18461a" stroke-width="0.8"/>
<circle cx="427.0" cy="1401.2" r="0.9" fill="#79b460"/>
<circle cx="424.6" cy="1403.1" r="1.3" fill="#79b460"/>
<circle cx="432.3" cy="1392.1" r="3.9" fill="#347430" stroke="#18461a" stroke-width="0.8"/>
<circle cx="431.7" cy="1390.1" r="0.9" fill="#79b460"/>
<circle cx="433.7" cy="1393.0" r="1.1" fill="#79b460"/>
<circle cx="432.3" cy="1396.8" r="4.2" fill="#347430" stroke="#18461a" stroke-width="0.8"/>
<circle cx="430.9" cy="1399.0" r="1.0" fill="#79b460"/>
<circle cx="433.0" cy="1398.3" r="1.2" fill="#79b460"/>
<circle cx="432.3" cy="1401.5" r="4.2" fill="#347430" stroke="#18461a" stroke-width="0.8"/>
<circle cx="432.5" cy="1400.0" r="1.2" fill="#79b460"/>
<circle cx="431.5" cy="1403.7" r="0.9" fill="#79b460"/>
<circle cx="438.3" cy="1391.4" r="3.9" fill="#347430" stroke="#18461a" stroke-width="0.8"/>
<circle cx="436.8" cy="1389.0" r="1.2" fill="#79b460"/>
<circle cx="437.2" cy="1390.2" r="1.0" fill="#79b460"/>
<circle cx="438.3" cy="1396.6" r="4.2" fill="#347430" stroke="#18461a" stroke-width="0.8"/>
<circle cx="439.0" cy="1397.5" r="1.0" fill="#79b460"/>
<circle cx="440.5" cy="1398.5" r="0.8" fill="#79b460"/>
<circle cx="438.3" cy="1402.7" r="4.6" fill="#347430" stroke="#18461a" stroke-width="0.8"/>
<circle cx="439.8" cy="1400.1" r="1.2" fill="#79b460"/>
<circle cx="439.0" cy="1399.5" r="0.8" fill="#79b460"/>
<circle cx="445.3" cy="1391.0" r="4.4" fill="#347430" stroke="#18461a" stroke-width="0.8"/>
<circle cx="443.3" cy="1389.7" r="0.9" fill="#79b460"/>
<circle cx="446.6" cy="1390.7" r="0.9" fill="#79b460"/>
<circle cx="445.3" cy="1397.3" r="4.7" fill="#347430" stroke="#18461a" stroke-width="0.8"/>
<circle cx="443.6" cy="1398.7" r="1.1" fill="#79b460"/>
<circle cx="446.7" cy="1397.5" r="1.2" fill="#79b460"/>
<circle cx="445.3" cy="1402.6" r="4.5" fill="#347430" stroke="#18461a" stroke-width="0.8"/>
<circle cx="443.8" cy="1402.9" r="1.1" fill="#79b460"/>
<circle cx="446.5" cy="1401.6" r="1.2" fill="#79b460"/>
<circle cx="451.6" cy="1391.0" r="3.9" fill="#347430" stroke="#18461a" stroke-width="0.8"/>
<circle cx="449.8" cy="1391.5" r="0.8" fill="#79b460"/>
<circle cx="451.4" cy="1389.7" r="1.0" fill="#79b460"/>
<circle cx="451.6" cy="1396.8" r="4.2" fill="#347430" stroke="#18461a" stroke-width="0.8"/>
<circle cx="453.4" cy="1394.2" r="1.2" fill="#79b460"/>
<circle cx="451.4" cy="1397.0" r="1.1" fill="#79b460"/>
<circle cx="451.6" cy="1401.6" r="4.6" fill="#347430" stroke="#18461a" stroke-width="0.8"/>
<circle cx="451.2" cy="1404.2" r="0.8" fill="#79b460"/>
<circle cx="452.3" cy="1402.6" r="0.8" fill="#79b460"/>
<circle cx="458.0" cy="1392.4" r="4.4" fill="#347430" stroke="#18461a" stroke-width="0.8"/>
<circle cx="457.2" cy="1393.9" r="1.1" fill="#79b460"/>
<circle cx="457.9" cy="1393.5" r="0.8" fill="#79b460"/>
<circle cx="458.0" cy="1397.0" r="4.5" fill="#347430" stroke="#18461a" stroke-width="0.8"/>
<circle cx="457.2" cy="1398.5" r="1.0" fill="#79b460"/>
<circle cx="457.9" cy="1396.8" r="1.2" fill="#79b460"/>
<circle cx="458.0" cy="1401.8" r="3.9" fill="#347430" stroke="#18461a" stroke-width="0.8"/>
<circle cx="457.6" cy="1402.2" r="1.2" fill="#79b460"/>
<circle cx="457.0" cy="1403.5" r="1.0" fill="#79b460"/>
<circle cx="464.3" cy="1391.5" r="3.9" fill="#347430" stroke="#18461a" stroke-width="0.8"/>
<circle cx="466.6" cy="1392.3" r="1.2" fill="#79b460"/>
<circle cx="463.4" cy="1390.6" r="0.9" fill="#79b460"/>
<circle cx="464.3" cy="1397.0" r="4.3" fill="#347430" stroke="#18461a" stroke-width="0.8"/>
<circle cx="465.7" cy="1394.4" r="1.2" fill="#79b460"/>
<circle cx="466.2" cy="1396.9" r="0.8" fill="#79b460"/>
<circle cx="464.3" cy="1400.9" r="4.0" fill="#347430" stroke="#18461a" stroke-width="0.8"/>
<circle cx="462.7" cy="1404.0" r="1.1" fill="#79b460"/>
<circle cx="465.1" cy="1403.3" r="1.3" fill="#79b460"/>
<circle cx="470.7" cy="1391.8" r="4.3" fill="#347430" stroke="#18461a" stroke-width="0.8"/>
<circle cx="471.7" cy="1392.0" r="1.1" fill="#79b460"/>
<circle cx="469.2" cy="1392.3" r="1.0" fill="#79b460"/>
<circle cx="470.7" cy="1395.9" r="4.5" fill="#347430" stroke="#18461a" stroke-width="0.8"/>
<circle cx="469.1" cy="1394.4" r="1.2" fill="#79b460"/>
<circle cx="472.8" cy="1397.5" r="1.0" fill="#79b460"/>
<circle cx="470.7" cy="1402.5" r="4.6" fill="#347430" stroke="#18461a" stroke-width="0.8"/>
<circle cx="471.0" cy="1400.7" r="1.0" fill="#79b460"/>
<circle cx="470.3" cy="1401.0" r="1.0" fill="#79b460"/>
<circle cx="477.1" cy="1390.6" r="4.7" fill="#347430" stroke="#18461a" stroke-width="0.8"/>
<circle cx="477.5" cy="1389.2" r="0.9" fill="#79b460"/>
<circle cx="478.7" cy="1391.9" r="1.3" fill="#79b460"/>
<circle cx="477.1" cy="1395.7" r="4.1" fill="#347430" stroke="#18461a" stroke-width="0.8"/>
<circle cx="476.6" cy="1397.2" r="1.3" fill="#79b460"/>
<circle cx="479.6" cy="1396.6" r="1.0" fill="#79b460"/>
<circle cx="477.1" cy="1402.2" r="3.7" fill="#347430" stroke="#18461a" stroke-width="0.8"/>
<circle cx="475.7" cy="1400.2" r="0.8" fill="#79b460"/>
<circle cx="474.7" cy="1402.8" r="0.9" fill="#79b460"/>
<circle cx="484.1" cy="1392.2" r="3.7" fill="#347430" stroke="#18461a" stroke-width="0.8"/>
<circle cx="482.2" cy="1389.1" r="1.2" fill="#79b460"/>
<circle cx="482.8" cy="1392.7" r="0.9" fill="#79b460"/>
<circle cx="484.1" cy="1397.2" r="3.7" fill="#347430" stroke="#18461a" stroke-width="0.8"/>
<circle cx="485.2" cy="1398.5" r="1.2" fill="#79b460"/>
<circle cx="482.0" cy="1397.3" r="1.2" fill="#79b460"/>
<circle cx="484.1" cy="1402.8" r="4.2" fill="#347430" stroke="#18461a" stroke-width="0.8"/>
<circle cx="482.9" cy="1404.2" r="1.2" fill="#79b460"/>
<circle cx="481.7" cy="1399.5" r="1.1" fill="#79b460"/>
<circle cx="490.8" cy="1391.1" r="3.7" fill="#347430" stroke="#18461a" stroke-width="0.8"/>
<circle cx="492.0" cy="1389.8" r="1.2" fill="#79b460"/>
<circle cx="490.8" cy="1389.3" r="1.0" fill="#79b460"/>
<circle cx="490.8" cy="1396.6" r="4.3" fill="#347430" stroke="#18461a" stroke-width="0.8"/>
<circle cx="491.7" cy="1394.9" r="1.2" fill="#79b460"/>
<circle cx="490.1" cy="1397.4" r="1.1" fill="#79b460"/>
<circle cx="490.8" cy="1401.7" r="4.1" fill="#347430" stroke="#18461a" stroke-width="0.8"/>
<circle cx="492.3" cy="1404.1" r="1.2" fill="#79b460"/>
<circle cx="491.2" cy="1400.9" r="0.8" fill="#79b460"/>
<circle cx="497.8" cy="1392.2" r="4.4" fill="#347430" stroke="#18461a" stroke-width="0.8"/>
<circle cx="496.9" cy="1392.0" r="1.3" fill="#79b460"/>
<circle cx="499.4" cy="1392.0" r="1.0" fill="#79b460"/>
<circle cx="497.8" cy="1397.5" r="4.1" fill="#347430" stroke="#18461a" stroke-width="0.8"/>
<circle cx="497.2" cy="1397.6" r="1.1" fill="#79b460"/>
<circle cx="499.8" cy="1398.2" r="0.9" fill="#79b460"/>
<circle cx="497.8" cy="1401.4" r="3.6" fill="#347430" stroke="#18461a" stroke-width="0.8"/>
<circle cx="497.4" cy="1402.3" r="1.2" fill="#79b460"/>
<circle cx="499.7" cy="1399.6" r="1.2" fill="#79b460"/>
<circle cx="525.6" cy="1357.5" r="10.5" fill="#2a6626" stroke="#174a16" stroke-width="0.8"/>
<circle cx="529.0" cy="1353.7" r="1.0" fill="#79b460"/>
<circle cx="529.9" cy="1351.7" r="1.2" fill="#79b460"/>
<circle cx="528.2" cy="1355.9" r="0.9" fill="#79b460"/>
<circle cx="518.9" cy="1355.2" r="0.9" fill="#79b460"/>
<circle cx="525.6" cy="1349.2" r="0.9" fill="#79b460"/>
<circle cx="520.9" cy="1353.7" r="1.1" fill="#79b460"/>
<circle cx="526.2" cy="1359.7" r="1.3" fill="#79b460"/>
<circle cx="526.7" cy="1353.5" r="0.9" fill="#79b460"/>
<circle cx="528.0" cy="1351.0" r="0.9" fill="#79b460"/>
<circle cx="518.6" cy="1353.7" r="1.3" fill="#79b460"/>
<circle cx="521.4" cy="1356.9" r="1.2" fill="#79b460"/>
<circle cx="526.2" cy="1359.1" r="0.9" fill="#79b460"/>
<circle cx="524.6" cy="1354.4" r="1.1" fill="#79b460"/>
<circle cx="521.8" cy="1360.2" r="0.9" fill="#79b460"/>
<circle cx="534.2" cy="1360.0" r="1.0" fill="#79b460"/>
<circle cx="530.0" cy="1361.0" r="1.3" fill="#79b460"/>
<circle cx="528.6" cy="1361.9" r="1.0" fill="#79b460"/>
<circle cx="525.4" cy="1357.5" r="0.8" fill="#79b460"/>
<circle cx="533.3" cy="1357.0" r="1.1" fill="#79b460"/>
<circle cx="523.5" cy="1356.5" r="1.3" fill="#79b460"/>
<circle cx="518.1" cy="1361.3" r="1.3" fill="#79b460"/>
<circle cx="529.2" cy="1349.7" r="1.0" fill="#79b460"/>
<circle cx="527.3" cy="1357.9" r="0.9" fill="#143e14"/>
<circle cx="526.0" cy="1357.7" r="1.2" fill="#143e14"/>
<circle cx="528.4" cy="1354.5" r="1.5" fill="#143e14"/>
<circle cx="526.1" cy="1357.2" r="1.2" fill="#143e14"/>
<circle cx="524.7" cy="1358.1" r="1.5" fill="#143e14"/>
<circle cx="525.4" cy="1362.5" r="1.2" fill="#143e14"/>
<circle cx="531.3" cy="1355.9" r="1.1" fill="#143e14"/>
<circle cx="524.2" cy="1358.0" r="1.5" fill="#143e14"/>
<circle cx="527.6" cy="1357.4" r="0.8" fill="#143e14"/>
<circle cx="525.5" cy="1360.6" r="1.4" fill="#143e14"/>
<circle cx="531.8" cy="1353.3" r="0.8" fill="#143e14"/>
<circle cx="527.0" cy="1351.3" r="1.3" fill="#143e14"/>
<rect x="546.5" y="1348.5" width="124.9" height="14.8" rx="7" fill="#326f2c"/>
<circle cx="549.5" cy="1350.1" r="4.8" fill="#347430" stroke="#18461a" stroke-width="0.8"/>
<circle cx="547.7" cy="1352.3" r="1.3" fill="#79b460"/>
<circle cx="550.4" cy="1350.0" r="1.1" fill="#79b460"/>
<circle cx="549.5" cy="1355.1" r="4.5" fill="#347430" stroke="#18461a" stroke-width="0.8"/>
<circle cx="548.6" cy="1354.7" r="0.9" fill="#79b460"/>
<circle cx="549.4" cy="1354.2" r="0.9" fill="#79b460"/>
<circle cx="549.5" cy="1361.2" r="3.8" fill="#347430" stroke="#18461a" stroke-width="0.8"/>
<circle cx="547.1" cy="1361.9" r="0.9" fill="#79b460"/>
<circle cx="547.2" cy="1362.9" r="0.9" fill="#79b460"/>
<circle cx="556.4" cy="1351.8" r="4.6" fill="#347430" stroke="#18461a" stroke-width="0.8"/>
<circle cx="554.6" cy="1350.7" r="0.8" fill="#79b460"/>
<circle cx="558.5" cy="1352.7" r="1.1" fill="#79b460"/>
<circle cx="556.4" cy="1355.6" r="4.1" fill="#347430" stroke="#18461a" stroke-width="0.8"/>
<circle cx="558.0" cy="1355.8" r="1.1" fill="#79b460"/>
<circle cx="554.6" cy="1354.5" r="0.8" fill="#79b460"/>
<circle cx="556.4" cy="1360.9" r="4.5" fill="#347430" stroke="#18461a" stroke-width="0.8"/>
<circle cx="554.6" cy="1362.7" r="0.9" fill="#79b460"/>
<circle cx="556.0" cy="1359.1" r="0.9" fill="#79b460"/>
<circle cx="563.2" cy="1350.3" r="4.0" fill="#347430" stroke="#18461a" stroke-width="0.8"/>
<circle cx="563.1" cy="1350.1" r="1.3" fill="#79b460"/>
<circle cx="561.2" cy="1353.4" r="0.8" fill="#79b460"/>
<circle cx="563.2" cy="1356.2" r="4.7" fill="#347430" stroke="#18461a" stroke-width="0.8"/>
<circle cx="561.7" cy="1355.8" r="0.9" fill="#79b460"/>
<circle cx="561.9" cy="1354.4" r="1.0" fill="#79b460"/>
<circle cx="563.2" cy="1361.8" r="4.8" fill="#347430" stroke="#18461a" stroke-width="0.8"/>
<circle cx="565.3" cy="1358.8" r="0.9" fill="#79b460"/>
<circle cx="565.1" cy="1358.6" r="1.2" fill="#79b460"/>
<circle cx="569.1" cy="1350.0" r="4.8" fill="#347430" stroke="#18461a" stroke-width="0.8"/>
<circle cx="570.6" cy="1350.2" r="0.9" fill="#79b460"/>
<circle cx="566.6" cy="1352.7" r="1.1" fill="#79b460"/>
<circle cx="569.1" cy="1355.8" r="3.8" fill="#347430" stroke="#18461a" stroke-width="0.8"/>
<circle cx="571.2" cy="1354.5" r="1.1" fill="#79b460"/>
<circle cx="567.3" cy="1354.3" r="1.2" fill="#79b460"/>
<circle cx="569.1" cy="1360.2" r="4.5" fill="#347430" stroke="#18461a" stroke-width="0.8"/>
<circle cx="567.0" cy="1358.7" r="1.1" fill="#79b460"/>
<circle cx="569.1" cy="1359.7" r="0.9" fill="#79b460"/>
<circle cx="575.5" cy="1351.6" r="4.4" fill="#347430" stroke="#18461a" stroke-width="0.8"/>
<circle cx="575.9" cy="1349.5" r="0.8" fill="#79b460"/>
<circle cx="576.7" cy="1350.5" r="1.2" fill="#79b460"/>
<circle cx="575.5" cy="1356.5" r="3.7" fill="#347430" stroke="#18461a" stroke-width="0.8"/>
<circle cx="574.7" cy="1357.6" r="1.2" fill="#79b460"/>
<circle cx="575.5" cy="1353.5" r="1.3" fill="#79b460"/>
<circle cx="575.5" cy="1361.5" r="4.2" fill="#347430" stroke="#18461a" stroke-width="0.8"/>
<circle cx="574.4" cy="1359.2" r="1.2" fill="#79b460"/>
<circle cx="574.9" cy="1359.1" r="1.0" fill="#79b460"/>
<circle cx="581.9" cy="1351.0" r="3.6" fill="#347430" stroke="#18461a" stroke-width="0.8"/>
<circle cx="581.6" cy="1351.1" r="0.9" fill="#79b460"/>
<circle cx="583.0" cy="1352.6" r="1.2" fill="#79b460"/>
<circle cx="581.9" cy="1356.3" r="4.0" fill="#347430" stroke="#18461a" stroke-width="0.8"/>
<circle cx="581.3" cy="1357.2" r="0.8" fill="#79b460"/>
<circle cx="583.8" cy="1358.2" r="1.0" fill="#79b460"/>
<circle cx="581.9" cy="1360.9" r="4.2" fill="#347430" stroke="#18461a" stroke-width="0.8"/>
<circle cx="582.1" cy="1358.4" r="1.3" fill="#79b460"/>
<circle cx="580.5" cy="1359.2" r="0.9" fill="#79b460"/>
<circle cx="587.8" cy="1350.1" r="4.6" fill="#347430" stroke="#18461a" stroke-width="0.8"/>
<circle cx="585.8" cy="1352.0" r="0.9" fill="#79b460"/>
<circle cx="585.4" cy="1351.5" r="1.1" fill="#79b460"/>
<circle cx="587.8" cy="1356.3" r="4.2" fill="#347430" stroke="#18461a" stroke-width="0.8"/>
<circle cx="585.8" cy="1357.7" r="1.2" fill="#79b460"/>
<circle cx="585.5" cy="1354.0" r="1.0" fill="#79b460"/>
<circle cx="587.8" cy="1360.4" r="4.2" fill="#347430" stroke="#18461a" stroke-width="0.8"/>
<circle cx="585.9" cy="1360.3" r="0.9" fill="#79b460"/>
<circle cx="588.2" cy="1362.6" r="0.9" fill="#79b460"/>
<circle cx="594.1" cy="1350.3" r="4.5" fill="#347430" stroke="#18461a" stroke-width="0.8"/>
<circle cx="595.8" cy="1353.2" r="1.0" fill="#79b460"/>
<circle cx="593.7" cy="1352.7" r="1.1" fill="#79b460"/>
<circle cx="594.1" cy="1356.8" r="4.1" fill="#347430" stroke="#18461a" stroke-width="0.8"/>
<circle cx="595.5" cy="1355.1" r="0.9" fill="#79b460"/>
<circle cx="593.3" cy="1355.6" r="1.3" fill="#79b460"/>
<circle cx="594.1" cy="1361.6" r="4.6" fill="#347430" stroke="#18461a" stroke-width="0.8"/>
<circle cx="595.7" cy="1362.5" r="0.8" fill="#79b460"/>
<circle cx="594.2" cy="1363.1" r="1.3" fill="#79b460"/>
<circle cx="600.0" cy="1351.3" r="4.1" fill="#347430" stroke="#18461a" stroke-width="0.8"/>
<circle cx="599.3" cy="1351.2" r="0.8" fill="#79b460"/>
<circle cx="599.7" cy="1351.0" r="0.8" fill="#79b460"/>
<circle cx="600.0" cy="1356.8" r="3.8" fill="#347430" stroke="#18461a" stroke-width="0.8"/>
<circle cx="601.4" cy="1358.1" r="1.1" fill="#79b460"/>
<circle cx="601.6" cy="1357.8" r="1.2" fill="#79b460"/>
<circle cx="600.0" cy="1361.1" r="3.6" fill="#347430" stroke="#18461a" stroke-width="0.8"/>
<circle cx="598.8" cy="1361.7" r="0.9" fill="#79b460"/>
<circle cx="600.2" cy="1362.9" r="1.1" fill="#79b460"/>
<circle cx="605.9" cy="1350.9" r="4.2" fill="#347430" stroke="#18461a" stroke-width="0.8"/>
<circle cx="608.2" cy="1349.9" r="1.0" fill="#79b460"/>
<circle cx="606.6" cy="1349.1" r="1.1" fill="#79b460"/>
<circle cx="605.9" cy="1355.9" r="4.7" fill="#347430" stroke="#18461a" stroke-width="0.8"/>
<circle cx="604.7" cy="1355.7" r="1.1" fill="#79b460"/>
<circle cx="604.1" cy="1354.0" r="0.9" fill="#79b460"/>
<circle cx="605.9" cy="1360.6" r="4.0" fill="#347430" stroke="#18461a" stroke-width="0.8"/>
<circle cx="604.8" cy="1359.5" r="0.8" fill="#79b460"/>
<circle cx="606.1" cy="1362.5" r="1.1" fill="#79b460"/>
<circle cx="612.3" cy="1350.4" r="4.4" fill="#347430" stroke="#18461a" stroke-width="0.8"/>
<circle cx="613.3" cy="1350.8" r="1.1" fill="#79b460"/>
<circle cx="612.8" cy="1350.8" r="1.0" fill="#79b460"/>
<circle cx="612.3" cy="1355.3" r="3.9" fill="#347430" stroke="#18461a" stroke-width="0.8"/>
<circle cx="612.3" cy="1355.3" r="1.1" fill="#79b460"/>
<circle cx="609.8" cy="1355.2" r="1.2" fill="#79b460"/>
<circle cx="612.3" cy="1360.9" r="3.9" fill="#347430" stroke="#18461a" stroke-width="0.8"/>
<circle cx="612.2" cy="1359.7" r="1.3" fill="#79b460"/>
<circle cx="611.2" cy="1362.2" r="0.9" fill="#79b460"/>
<circle cx="617.9" cy="1350.9" r="4.6" fill="#347430" stroke="#18461a" stroke-width="0.8"/>
<circle cx="615.7" cy="1350.4" r="1.0" fill="#79b460"/>
<circle cx="619.0" cy="1349.0" r="0.9" fill="#79b460"/>
<circle cx="617.9" cy="1356.4" r="4.8" fill="#347430" stroke="#18461a" stroke-width="0.8"/>
<circle cx="616.1" cy="1355.1" r="1.0" fill="#79b460"/>
<circle cx="618.7" cy="1356.5" r="1.2" fill="#79b460"/>
<circle cx="617.9" cy="1360.8" r="4.6" fill="#347430" stroke="#18461a" stroke-width="0.8"/>
<circle cx="619.0" cy="1362.0" r="1.2" fill="#79b460"/>
<circle cx="617.7" cy="1362.2" r="1.2" fill="#79b460"/>
<circle cx="624.7" cy="1351.7" r="3.8" fill="#347430" stroke="#18461a" stroke-width="0.8"/>
<circle cx="622.2" cy="1352.3" r="1.1" fill="#79b460"/>
<circle cx="624.7" cy="1353.3" r="1.1" fill="#79b460"/>
<circle cx="624.7" cy="1356.5" r="4.1" fill="#347430" stroke="#18461a" stroke-width="0.8"/>
<circle cx="626.6" cy="1356.4" r="1.0" fill="#79b460"/>
<circle cx="624.5" cy="1355.7" r="1.2" fill="#79b460"/>
<circle cx="624.7" cy="1360.6" r="4.0" fill="#347430" stroke="#18461a" stroke-width="0.8"/>
<circle cx="625.0" cy="1360.2" r="1.0" fill="#79b460"/>
<circle cx="626.2" cy="1362.5" r="1.0" fill="#79b460"/>
<circle cx="630.9" cy="1350.6" r="3.8" fill="#347430" stroke="#18461a" stroke-width="0.8"/>
<circle cx="629.1" cy="1351.4" r="1.1" fill="#79b460"/>
<circle cx="628.8" cy="1353.1" r="1.0" fill="#79b460"/>
<circle cx="630.9" cy="1356.6" r="4.6" fill="#347430" stroke="#18461a" stroke-width="0.8"/>
<circle cx="633.2" cy="1354.4" r="1.0" fill="#79b460"/>
<circle cx="632.9" cy="1353.5" r="0.8" fill="#79b460"/>
<circle cx="630.9" cy="1360.8" r="4.3" fill="#347430" stroke="#18461a" stroke-width="0.8"/>
<circle cx="633.0" cy="1362.2" r="1.1" fill="#79b460"/>
<circle cx="633.4" cy="1360.9" r="1.1" fill="#79b460"/>
<circle cx="637.4" cy="1350.7" r="4.1" fill="#347430" stroke="#18461a" stroke-width="0.8"/>
<circle cx="637.9" cy="1350.3" r="1.3" fill="#79b460"/>
<circle cx="638.3" cy="1351.1" r="0.8" fill="#79b460"/>
<circle cx="637.4" cy="1355.7" r="4.0" fill="#347430" stroke="#18461a" stroke-width="0.8"/>
<circle cx="637.7" cy="1356.3" r="1.2" fill="#79b460"/>
<circle cx="639.7" cy="1355.8" r="1.0" fill="#79b460"/>
<circle cx="637.4" cy="1361.8" r="4.3" fill="#347430" stroke="#18461a" stroke-width="0.8"/>
<circle cx="636.6" cy="1361.0" r="1.2" fill="#79b460"/>
<circle cx="635.8" cy="1359.9" r="1.3" fill="#79b460"/>
<circle cx="644.2" cy="1350.2" r="4.2" fill="#347430" stroke="#18461a" stroke-width="0.8"/>
<circle cx="646.1" cy="1351.9" r="1.2" fill="#79b460"/>
<circle cx="646.6" cy="1352.9" r="1.0" fill="#79b460"/>
<circle cx="644.2" cy="1355.5" r="3.8" fill="#347430" stroke="#18461a" stroke-width="0.8"/>
<circle cx="644.2" cy="1355.9" r="0.9" fill="#79b460"/>
<circle cx="642.6" cy="1356.6" r="1.1" fill="#79b460"/>
<circle cx="644.2" cy="1361.8" r="4.0" fill="#347430" stroke="#18461a" stroke-width="0.8"/>
<circle cx="644.8" cy="1358.5" r="1.0" fill="#79b460"/>
<circle cx="645.6" cy="1359.8" r="1.1" fill="#79b460"/>
<circle cx="649.7" cy="1351.7" r="4.0" fill="#347430" stroke="#18461a" stroke-width="0.8"/>
<circle cx="650.1" cy="1351.8" r="0.9" fill="#79b460"/>
<circle cx="649.7" cy="1351.3" r="0.9" fill="#79b460"/>
<circle cx="649.7" cy="1356.0" r="4.4" fill="#347430" stroke="#18461a" stroke-width="0.8"/>
<circle cx="652.1" cy="1356.3" r="1.0" fill="#79b460"/>
<circle cx="647.8" cy="1354.2" r="1.2" fill="#79b460"/>
<circle cx="649.7" cy="1360.0" r="3.7" fill="#347430" stroke="#18461a" stroke-width="0.8"/>
<circle cx="648.0" cy="1360.9" r="1.2" fill="#79b460"/>
<circle cx="650.2" cy="1362.3" r="0.8" fill="#79b460"/>
<circle cx="655.2" cy="1350.6" r="4.5" fill="#347430" stroke="#18461a" stroke-width="0.8"/>
<circle cx="656.3" cy="1350.3" r="0.9" fill="#79b460"/>
<circle cx="654.0" cy="1349.0" r="1.3" fill="#79b460"/>
<circle cx="655.2" cy="1355.6" r="4.3" fill="#347430" stroke="#18461a" stroke-width="0.8"/>
<circle cx="654.9" cy="1355.3" r="0.8" fill="#79b460"/>
<circle cx="657.1" cy="1356.3" r="1.3" fill="#79b460"/>
<circle cx="655.2" cy="1361.0" r="4.1" fill="#347430" stroke="#18461a" stroke-width="0.8"/>
<circle cx="653.9" cy="1358.5" r="1.3" fill="#79b460"/>
<circle cx="657.0" cy="1359.9" r="1.2" fill="#79b460"/>
<circle cx="661.9" cy="1351.2" r="4.0" fill="#347430" stroke="#18461a" stroke-width="0.8"/>
<circle cx="664.2" cy="1351.0" r="1.3" fill="#79b460"/>
<circle cx="660.6" cy="1350.4" r="1.2" fill="#79b460"/>
<circle cx="661.9" cy="1355.5" r="3.9" fill="#347430" stroke="#18461a" stroke-width="0.8"/>
<circle cx="663.8" cy="1355.8" r="1.2" fill="#79b460"/>
<circle cx="660.6" cy="1354.3" r="1.0" fill="#79b460"/>
<circle cx="661.9" cy="1361.7" r="3.8" fill="#347430" stroke="#18461a" stroke-width="0.8"/>
<circle cx="660.9" cy="1361.1" r="0.9" fill="#79b460"/>
<circle cx="662.1" cy="1360.2" r="1.0" fill="#79b460"/>
<circle cx="667.5" cy="1351.7" r="3.7" fill="#347430" stroke="#18461a" stroke-width="0.8"/>
<circle cx="666.8" cy="1349.7" r="0.9" fill="#79b460"/>
<circle cx="666.4" cy="1349.7" r="0.8" fill="#79b460"/>
<circle cx="667.5" cy="1355.6" r="4.4" fill="#347430" stroke="#18461a" stroke-width="0.8"/>
<circle cx="665.8" cy="1356.9" r="0.8" fill="#79b460"/>
<circle cx="666.4" cy="1357.6" r="0.9" fill="#79b460"/>
<circle cx="667.5" cy="1361.5" r="4.1" fill="#347430" stroke="#18461a" stroke-width="0.8"/>
<circle cx="669.0" cy="1359.1" r="1.0" fill="#79b460"/>
<circle cx="668.6" cy="1360.2" r="1.3" fill="#79b460"/>
<rect x="516.6" y="1369" width="151.7" height="14.8" rx="7" fill="#326f2c"/>
<circle cx="519.6" cy="1371.5" r="4.7" fill="#347430" stroke="#18461a" stroke-width="0.8"/>
<circle cx="518.2" cy="1371.3" r="0.9" fill="#79b460"/>
<circle cx="520.6" cy="1370.3" r="1.2" fill="#79b460"/>
<circle cx="519.6" cy="1376.1" r="4.3" fill="#347430" stroke="#18461a" stroke-width="0.8"/>
<circle cx="518.3" cy="1376.9" r="0.9" fill="#79b460"/>
<circle cx="521.5" cy="1374.5" r="1.1" fill="#79b460"/>
<circle cx="519.6" cy="1380.8" r="4.3" fill="#347430" stroke="#18461a" stroke-width="0.8"/>
<circle cx="521.0" cy="1380.7" r="1.1" fill="#79b460"/>
<circle cx="519.9" cy="1380.4" r="1.0" fill="#79b460"/>
<circle cx="525.2" cy="1372.2" r="3.8" fill="#347430" stroke="#18461a" stroke-width="0.8"/>
<circle cx="524.3" cy="1372.3" r="0.9" fill="#79b460"/>
<circle cx="525.5" cy="1370.8" r="1.1" fill="#79b460"/>
<circle cx="525.2" cy="1375.5" r="4.0" fill="#347430" stroke="#18461a" stroke-width="0.8"/>
<circle cx="524.3" cy="1375.0" r="0.9" fill="#79b460"/>
<circle cx="526.3" cy="1375.3" r="1.0" fill="#79b460"/>
<circle cx="525.2" cy="1381.8" r="4.7" fill="#347430" stroke="#18461a" stroke-width="0.8"/>
<circle cx="527.1" cy="1383.1" r="0.9" fill="#79b460"/>
<circle cx="524.1" cy="1378.9" r="1.1" fill="#79b460"/>
<circle cx="531.7" cy="1371.3" r="4.0" fill="#347430" stroke="#18461a" stroke-width="0.8"/>
<circle cx="532.5" cy="1372.5" r="0.9" fill="#79b460"/>
<circle cx="533.5" cy="1370.8" r="1.1" fill="#79b460"/>
<circle cx="531.7" cy="1375.6" r="3.8" fill="#347430" stroke="#18461a" stroke-width="0.8"/>
<circle cx="533.8" cy="1377.6" r="1.2" fill="#79b460"/>
<circle cx="529.4" cy="1374.1" r="0.9" fill="#79b460"/>
<circle cx="531.7" cy="1380.9" r="3.8" fill="#347430" stroke="#18461a" stroke-width="0.8"/>
<circle cx="531.1" cy="1379.0" r="1.0" fill="#79b460"/>
<circle cx="532.4" cy="1379.7" r="1.2" fill="#79b460"/>
<circle cx="538.1" cy="1371.0" r="4.5" fill="#347430" stroke="#18461a" stroke-width="0.8"/>
<circle cx="537.8" cy="1372.4" r="1.0" fill="#79b460"/>
<circle cx="535.6" cy="1373.2" r="1.2" fill="#79b460"/>
<circle cx="538.1" cy="1375.5" r="3.9" fill="#347430" stroke="#18461a" stroke-width="0.8"/>
<circle cx="539.9" cy="1376.9" r="0.8" fill="#79b460"/>
<circle cx="536.8" cy="1374.5" r="1.2" fill="#79b460"/>
<circle cx="538.1" cy="1382.1" r="3.9" fill="#347430" stroke="#18461a" stroke-width="0.8"/>
<circle cx="539.3" cy="1379.2" r="1.1" fill="#79b460"/>
<circle cx="537.5" cy="1382.5" r="1.2" fill="#79b460"/>
<circle cx="544.0" cy="1372.4" r="3.7" fill="#347430" stroke="#18461a" stroke-width="0.8"/>
<circle cx="543.6" cy="1373.7" r="1.1" fill="#79b460"/>
<circle cx="545.2" cy="1373.1" r="1.1" fill="#79b460"/>
<circle cx="544.0" cy="1375.5" r="4.1" fill="#347430" stroke="#18461a" stroke-width="0.8"/>
<circle cx="545.0" cy="1376.0" r="1.1" fill="#79b460"/>
<circle cx="546.1" cy="1374.5" r="1.2" fill="#79b460"/>
<circle cx="544.0" cy="1381.7" r="3.7" fill="#347430" stroke="#18461a" stroke-width="0.8"/>
<circle cx="545.5" cy="1380.1" r="1.1" fill="#79b460"/>
<circle cx="546.3" cy="1382.0" r="1.1" fill="#79b460"/>
<circle cx="549.9" cy="1371.2" r="3.7" fill="#347430" stroke="#18461a" stroke-width="0.8"/>
<circle cx="549.4" cy="1370.0" r="1.0" fill="#79b460"/>
<circle cx="548.1" cy="1372.5" r="1.1" fill="#79b460"/>
<circle cx="549.9" cy="1375.9" r="3.9" fill="#347430" stroke="#18461a" stroke-width="0.8"/>
<circle cx="550.0" cy="1376.1" r="1.3" fill="#79b460"/>
<circle cx="549.1" cy="1375.4" r="1.2" fill="#79b460"/>
<circle cx="549.9" cy="1381.4" r="3.8" fill="#347430" stroke="#18461a" stroke-width="0.8"/>
<circle cx="549.0" cy="1382.9" r="1.1" fill="#79b460"/>
<circle cx="551.2" cy="1379.6" r="1.1" fill="#79b460"/>
<circle cx="556.3" cy="1372.0" r="4.2" fill="#347430" stroke="#18461a" stroke-width="0.8"/>
<circle cx="557.9" cy="1369.6" r="0.9" fill="#79b460"/>
<circle cx="555.6" cy="1370.0" r="0.8" fill="#79b460"/>
<circle cx="556.3" cy="1375.8" r="3.9" fill="#347430" stroke="#18461a" stroke-width="0.8"/>
<circle cx="557.3" cy="1376.1" r="0.9" fill="#79b460"/>
<circle cx="555.4" cy="1376.2" r="1.0" fill="#79b460"/>
<circle cx="556.3" cy="1380.4" r="3.8" fill="#347430" stroke="#18461a" stroke-width="0.8"/>
<circle cx="553.8" cy="1383.8" r="1.2" fill="#79b460"/>
<circle cx="554.2" cy="1382.4" r="1.3" fill="#79b460"/>
<circle cx="562.6" cy="1371.5" r="3.7" fill="#347430" stroke="#18461a" stroke-width="0.8"/>
<circle cx="562.3" cy="1369.9" r="1.1" fill="#79b460"/>
<circle cx="560.2" cy="1373.6" r="1.1" fill="#79b460"/>
<circle cx="562.6" cy="1377.3" r="4.4" fill="#347430" stroke="#18461a" stroke-width="0.8"/>
<circle cx="563.4" cy="1375.2" r="0.9" fill="#79b460"/>
<circle cx="560.8" cy="1374.0" r="1.2" fill="#79b460"/>
<circle cx="562.6" cy="1380.9" r="4.6" fill="#347430" stroke="#18461a" stroke-width="0.8"/>
<circle cx="561.0" cy="1382.0" r="1.2" fill="#79b460"/>
<circle cx="564.8" cy="1379.6" r="1.2" fill="#79b460"/>
<circle cx="569.4" cy="1371.2" r="4.5" fill="#347430" stroke="#18461a" stroke-width="0.8"/>
<circle cx="567.8" cy="1373.1" r="1.0" fill="#79b460"/>
<circle cx="568.7" cy="1371.8" r="1.0" fill="#79b460"/>
<circle cx="569.4" cy="1375.9" r="4.6" fill="#347430" stroke="#18461a" stroke-width="0.8"/>
<circle cx="567.1" cy="1376.7" r="1.1" fill="#79b460"/>
<circle cx="571.0" cy="1377.4" r="1.3" fill="#79b460"/>
<circle cx="569.4" cy="1381.3" r="4.7" fill="#347430" stroke="#18461a" stroke-width="0.8"/>
<circle cx="569.4" cy="1379.6" r="0.9" fill="#79b460"/>
<circle cx="569.8" cy="1379.2" r="1.1" fill="#79b460"/>
<circle cx="575.1" cy="1372.4" r="4.1" fill="#347430" stroke="#18461a" stroke-width="0.8"/>
<circle cx="573.1" cy="1369.2" r="1.0" fill="#79b460"/>
<circle cx="573.6" cy="1372.6" r="0.8" fill="#79b460"/>
<circle cx="575.1" cy="1377.1" r="4.6" fill="#347430" stroke="#18461a" stroke-width="0.8"/>
<circle cx="576.5" cy="1376.0" r="0.9" fill="#79b460"/>
<circle cx="575.9" cy="1376.5" r="1.0" fill="#79b460"/>
<circle cx="575.1" cy="1381.2" r="4.0" fill="#347430" stroke="#18461a" stroke-width="0.8"/>
<circle cx="575.9" cy="1382.9" r="1.3" fill="#79b460"/>
<circle cx="573.4" cy="1380.3" r="1.0" fill="#79b460"/>
<circle cx="581.5" cy="1370.9" r="4.0" fill="#347430" stroke="#18461a" stroke-width="0.8"/>
<circle cx="579.4" cy="1370.6" r="1.0" fill="#79b460"/>
<circle cx="583.8" cy="1373.5" r="1.2" fill="#79b460"/>
<circle cx="581.5" cy="1377.3" r="4.8" fill="#347430" stroke="#18461a" stroke-width="0.8"/>
<circle cx="582.1" cy="1378.0" r="0.8" fill="#79b460"/>
<circle cx="582.3" cy="1376.9" r="0.9" fill="#79b460"/>
<circle cx="581.5" cy="1382.2" r="4.3" fill="#347430" stroke="#18461a" stroke-width="0.8"/>
<circle cx="581.4" cy="1382.0" r="0.9" fill="#79b460"/>
<circle cx="580.7" cy="1383.2" r="0.8" fill="#79b460"/>
<circle cx="587.2" cy="1371.4" r="4.4" fill="#347430" stroke="#18461a" stroke-width="0.8"/>
<circle cx="585.2" cy="1372.3" r="1.0" fill="#79b460"/>
<circle cx="587.6" cy="1371.1" r="1.1" fill="#79b460"/>
<circle cx="587.2" cy="1376.2" r="4.3" fill="#347430" stroke="#18461a" stroke-width="0.8"/>
<circle cx="585.3" cy="1374.8" r="1.2" fill="#79b460"/>
<circle cx="587.5" cy="1374.5" r="1.2" fill="#79b460"/>
<circle cx="587.2" cy="1380.5" r="3.9" fill="#347430" stroke="#18461a" stroke-width="0.8"/>
<circle cx="587.4" cy="1380.1" r="1.0" fill="#79b460"/>
<circle cx="587.5" cy="1379.9" r="1.1" fill="#79b460"/>
<circle cx="592.9" cy="1371.7" r="4.2" fill="#347430" stroke="#18461a" stroke-width="0.8"/>
<circle cx="590.8" cy="1371.0" r="0.8" fill="#79b460"/>
<circle cx="592.6" cy="1373.3" r="1.1" fill="#79b460"/>
<circle cx="592.9" cy="1376.9" r="4.5" fill="#347430" stroke="#18461a" stroke-width="0.8"/>
<circle cx="591.0" cy="1378.9" r="1.2" fill="#79b460"/>
<circle cx="590.9" cy="1378.1" r="1.0" fill="#79b460"/>
<circle cx="592.9" cy="1382.2" r="3.8" fill="#347430" stroke="#18461a" stroke-width="0.8"/>
<circle cx="593.2" cy="1382.7" r="0.9" fill="#79b460"/>
<circle cx="594.3" cy="1379.1" r="0.9" fill="#79b460"/>
<circle cx="599.0" cy="1371.7" r="3.6" fill="#347430" stroke="#18461a" stroke-width="0.8"/>
<circle cx="597.5" cy="1370.5" r="1.2" fill="#79b460"/>
<circle cx="598.6" cy="1373.4" r="1.1" fill="#79b460"/>
<circle cx="599.0" cy="1376.5" r="4.6" fill="#347430" stroke="#18461a" stroke-width="0.8"/>
<circle cx="601.1" cy="1378.3" r="0.9" fill="#79b460"/>
<circle cx="600.2" cy="1375.6" r="1.2" fill="#79b460"/>
<circle cx="599.0" cy="1382.0" r="4.4" fill="#347430" stroke="#18461a" stroke-width="0.8"/>
<circle cx="597.1" cy="1380.7" r="1.2" fill="#79b460"/>
<circle cx="601.2" cy="1382.4" r="0.8" fill="#79b460"/>
<circle cx="605.4" cy="1371.6" r="3.7" fill="#347430" stroke="#18461a" stroke-width="0.8"/>
<circle cx="606.9" cy="1369.6" r="1.3" fill="#79b460"/>
<circle cx="606.2" cy="1370.3" r="0.9" fill="#79b460"/>
<circle cx="605.4" cy="1377.1" r="4.1" fill="#347430" stroke="#18461a" stroke-width="0.8"/>
<circle cx="605.8" cy="1374.5" r="0.8" fill="#79b460"/>
<circle cx="603.4" cy="1377.9" r="0.9" fill="#79b460"/>
<circle cx="605.4" cy="1380.9" r="4.3" fill="#347430" stroke="#18461a" stroke-width="0.8"/>
<circle cx="606.3" cy="1380.7" r="0.9" fill="#79b460"/>
<circle cx="607.2" cy="1381.5" r="1.1" fill="#79b460"/>
<circle cx="612.1" cy="1370.5" r="4.7" fill="#347430" stroke="#18461a" stroke-width="0.8"/>
<circle cx="611.3" cy="1369.8" r="1.1" fill="#79b460"/>
<circle cx="614.0" cy="1373.0" r="0.8" fill="#79b460"/>
<circle cx="612.1" cy="1377.0" r="3.8" fill="#347430" stroke="#18461a" stroke-width="0.8"/>
<circle cx="613.0" cy="1375.9" r="1.0" fill="#79b460"/>
<circle cx="610.4" cy="1378.1" r="1.0" fill="#79b460"/>
<circle cx="612.1" cy="1381.5" r="4.6" fill="#347430" stroke="#18461a" stroke-width="0.8"/>
<circle cx="610.0" cy="1380.4" r="0.9" fill="#79b460"/>
<circle cx="614.1" cy="1381.7" r="0.8" fill="#79b460"/>
<circle cx="617.8" cy="1371.4" r="4.0" fill="#347430" stroke="#18461a" stroke-width="0.8"/>
<circle cx="618.2" cy="1370.9" r="1.0" fill="#79b460"/>
<circle cx="615.4" cy="1371.9" r="1.0" fill="#79b460"/>
<circle cx="617.8" cy="1376.3" r="3.6" fill="#347430" stroke="#18461a" stroke-width="0.8"/>
<circle cx="620.3" cy="1374.1" r="0.9" fill="#79b460"/>
<circle cx="618.7" cy="1375.3" r="0.9" fill="#79b460"/>
<circle cx="617.8" cy="1380.8" r="4.2" fill="#347430" stroke="#18461a" stroke-width="0.8"/>
<circle cx="618.2" cy="1381.4" r="1.3" fill="#79b460"/>
<circle cx="620.3" cy="1379.0" r="1.1" fill="#79b460"/>
<circle cx="624.5" cy="1372.0" r="4.6" fill="#347430" stroke="#18461a" stroke-width="0.8"/>
<circle cx="625.2" cy="1372.2" r="1.0" fill="#79b460"/>
<circle cx="623.4" cy="1373.0" r="1.2" fill="#79b460"/>
<circle cx="624.5" cy="1376.8" r="4.7" fill="#347430" stroke="#18461a" stroke-width="0.8"/>
<circle cx="623.5" cy="1377.7" r="1.2" fill="#79b460"/>
<circle cx="624.5" cy="1377.1" r="1.0" fill="#79b460"/>
<circle cx="624.5" cy="1381.1" r="4.3" fill="#347430" stroke="#18461a" stroke-width="0.8"/>
<circle cx="622.3" cy="1380.5" r="1.0" fill="#79b460"/>
<circle cx="626.9" cy="1381.2" r="1.0" fill="#79b460"/>
<circle cx="630.4" cy="1371.2" r="3.9" fill="#347430" stroke="#18461a" stroke-width="0.8"/>
<circle cx="628.5" cy="1369.0" r="1.2" fill="#79b460"/>
<circle cx="630.1" cy="1371.2" r="1.1" fill="#79b460"/>
<circle cx="630.4" cy="1375.7" r="4.0" fill="#347430" stroke="#18461a" stroke-width="0.8"/>
<circle cx="628.2" cy="1375.4" r="1.0" fill="#79b460"/>
<circle cx="631.5" cy="1376.7" r="1.3" fill="#79b460"/>
<circle cx="630.4" cy="1382.1" r="4.0" fill="#347430" stroke="#18461a" stroke-width="0.8"/>
<circle cx="630.8" cy="1379.2" r="0.9" fill="#79b460"/>
<circle cx="630.8" cy="1383.7" r="1.0" fill="#79b460"/>
<circle cx="637.0" cy="1372.2" r="4.1" fill="#347430" stroke="#18461a" stroke-width="0.8"/>
<circle cx="634.9" cy="1371.4" r="1.2" fill="#79b460"/>
<circle cx="635.9" cy="1370.3" r="0.8" fill="#79b460"/>
<circle cx="637.0" cy="1375.9" r="3.8" fill="#347430" stroke="#18461a" stroke-width="0.8"/>
<circle cx="638.0" cy="1375.0" r="1.0" fill="#79b460"/>
<circle cx="635.5" cy="1376.9" r="1.2" fill="#79b460"/>
<circle cx="637.0" cy="1380.7" r="4.4" fill="#347430" stroke="#18461a" stroke-width="0.8"/>
<circle cx="638.2" cy="1383.6" r="1.1" fill="#79b460"/>
<circle cx="634.9" cy="1382.8" r="1.2" fill="#79b460"/>
<circle cx="643.0" cy="1370.9" r="3.8" fill="#347430" stroke="#18461a" stroke-width="0.8"/>
<circle cx="643.2" cy="1373.4" r="1.1" fill="#79b460"/>
<circle cx="645.1" cy="1370.1" r="1.0" fill="#79b460"/>
<circle cx="643.0" cy="1376.7" r="4.5" fill="#347430" stroke="#18461a" stroke-width="0.8"/>
<circle cx="642.6" cy="1377.3" r="1.0" fill="#79b460"/>
<circle cx="640.8" cy="1376.0" r="0.8" fill="#79b460"/>
<circle cx="643.0" cy="1381.0" r="4.4" fill="#347430" stroke="#18461a" stroke-width="0.8"/>
<circle cx="643.0" cy="1381.8" r="0.9" fill="#79b460"/>
<circle cx="642.9" cy="1378.9" r="1.3" fill="#79b460"/>
<circle cx="649.4" cy="1370.6" r="4.8" fill="#347430" stroke="#18461a" stroke-width="0.8"/>
<circle cx="650.0" cy="1372.6" r="1.0" fill="#79b460"/>
<circle cx="647.3" cy="1369.8" r="0.9" fill="#79b460"/>
<circle cx="649.4" cy="1375.6" r="4.5" fill="#347430" stroke="#18461a" stroke-width="0.8"/>
<circle cx="651.0" cy="1376.0" r="1.1" fill="#79b460"/>
<circle cx="649.8" cy="1376.7" r="1.1" fill="#79b460"/>
<circle cx="649.4" cy="1381.0" r="4.3" fill="#347430" stroke="#18461a" stroke-width="0.8"/>
<circle cx="650.6" cy="1380.1" r="1.2" fill="#79b460"/>
<circle cx="650.7" cy="1382.7" r="1.0" fill="#79b460"/>
<circle cx="656.0" cy="1371.4" r="4.8" fill="#347430" stroke="#18461a" stroke-width="0.8"/>
<circle cx="654.9" cy="1371.6" r="1.3" fill="#79b460"/>
<circle cx="654.2" cy="1369.0" r="1.0" fill="#79b460"/>
<circle cx="656.0" cy="1376.9" r="4.4" fill="#347430" stroke="#18461a" stroke-width="0.8"/>
<circle cx="655.4" cy="1378.8" r="0.9" fill="#79b460"/>
<circle cx="657.3" cy="1374.3" r="0.8" fill="#79b460"/>
<circle cx="656.0" cy="1380.4" r="3.8" fill="#347430" stroke="#18461a" stroke-width="0.8"/>
<circle cx="656.0" cy="1381.6" r="0.9" fill="#79b460"/>
<circle cx="658.2" cy="1380.6" r="0.9" fill="#79b460"/>
<circle cx="661.8" cy="1372.3" r="4.5" fill="#347430" stroke="#18461a" stroke-width="0.8"/>
<circle cx="660.1" cy="1369.1" r="1.2" fill="#79b460"/>
<circle cx="660.5" cy="1373.9" r="1.0" fill="#79b460"/>
<circle cx="661.8" cy="1376.1" r="4.4" fill="#347430" stroke="#18461a" stroke-width="0.8"/>
<circle cx="663.3" cy="1376.2" r="1.0" fill="#79b460"/>
<circle cx="663.8" cy="1374.4" r="1.2" fill="#79b460"/>
<circle cx="661.8" cy="1381.6" r="3.7" fill="#347430" stroke="#18461a" stroke-width="0.8"/>
<circle cx="661.3" cy="1383.1" r="0.8" fill="#79b460"/>
<circle cx="662.1" cy="1380.8" r="1.3" fill="#79b460"/>
<circle cx="535" cy="1395.8" r="10" fill="#2a6626" stroke="#174a16" stroke-width="0.8"/>
<circle cx="533.7" cy="1394.4" r="1.0" fill="#79b460"/>
<circle cx="534.7" cy="1399.5" r="0.9" fill="#79b460"/>
<circle cx="536.9" cy="1402.0" r="1.2" fill="#79b460"/>
<circle cx="532.5" cy="1403.9" r="0.9" fill="#79b460"/>
<circle cx="533.8" cy="1395.2" r="1.3" fill="#79b460"/>
<circle cx="536.5" cy="1394.1" r="1.3" fill="#79b460"/>
<circle cx="536.1" cy="1393.6" r="1.0" fill="#79b460"/>
<circle cx="527.5" cy="1396.5" r="0.9" fill="#79b460"/>
<circle cx="532.9" cy="1391.2" r="1.1" fill="#79b460"/>
<circle cx="528.4" cy="1392.2" r="0.9" fill="#79b460"/>
<circle cx="537.3" cy="1393.7" r="1.3" fill="#79b460"/>
<circle cx="536.0" cy="1394.6" r="1.3" fill="#79b460"/>
<circle cx="537.5" cy="1395.7" r="0.8" fill="#79b460"/>
<circle cx="541.3" cy="1401.1" r="0.8" fill="#79b460"/>
<circle cx="536.1" cy="1395.1" r="1.2" fill="#79b460"/>
<circle cx="536.2" cy="1396.6" r="1.2" fill="#79b460"/>
<circle cx="537.4" cy="1397.3" r="1.4" fill="#79b460"/>
<circle cx="533.4" cy="1388.5" r="1.4" fill="#79b460"/>
<circle cx="537.0" cy="1396.2" r="1.3" fill="#79b460"/>
<circle cx="534.9" cy="1395.5" r="1.1" fill="#79b460"/>
<circle cx="535.4" cy="1399.4" r="0.9" fill="#79b460"/>
<circle cx="543.4" cy="1396.9" r="1.0" fill="#79b460"/>
<circle cx="535.7" cy="1395.1" r="1.1" fill="#143e14"/>
<circle cx="537.4" cy="1398.5" r="0.9" fill="#143e14"/>
<circle cx="534.5" cy="1394.6" r="1.3" fill="#143e14"/>
<circle cx="534.0" cy="1395.8" r="1.0" fill="#143e14"/>
<circle cx="527.2" cy="1396.0" r="1.0" fill="#143e14"/>
<circle cx="536.8" cy="1403.8" r="1.4" fill="#143e14"/>
<circle cx="534.7" cy="1393.5" r="0.9" fill="#143e14"/>
<circle cx="534.9" cy="1396.4" r="0.8" fill="#143e14"/>
<circle cx="531.5" cy="1395.6" r="1.2" fill="#143e14"/>
<circle cx="534.9" cy="1395.9" r="1.3" fill="#143e14"/>
<circle cx="532.3" cy="1392.0" r="1.2" fill="#143e14"/>
<circle cx="531.9" cy="1388.0" r="1.4" fill="#143e14"/>
<rect x="566.9" y="1389.4" width="96.6" height="14.8" rx="7" fill="#326f2c"/>
<circle cx="569.9" cy="1391.7" r="4.5" fill="#347430" stroke="#18461a" stroke-width="0.8"/>
<circle cx="569.0" cy="1391.5" r="1.3" fill="#79b460"/>
<circle cx="569.3" cy="1391.3" r="1.0" fill="#79b460"/>
<circle cx="569.9" cy="1397.8" r="3.8" fill="#347430" stroke="#18461a" stroke-width="0.8"/>
<circle cx="567.4" cy="1397.3" r="1.3" fill="#79b460"/>
<circle cx="568.7" cy="1397.4" r="1.0" fill="#79b460"/>
<circle cx="569.9" cy="1401.1" r="3.9" fill="#347430" stroke="#18461a" stroke-width="0.8"/>
<circle cx="568.0" cy="1403.4" r="1.2" fill="#79b460"/>
<circle cx="571.9" cy="1399.4" r="1.1" fill="#79b460"/>
<circle cx="575.9" cy="1392.0" r="4.4" fill="#347430" stroke="#18461a" stroke-width="0.8"/>
<circle cx="575.0" cy="1394.3" r="0.8" fill="#79b460"/>
<circle cx="577.1" cy="1393.7" r="1.1" fill="#79b460"/>
<circle cx="575.9" cy="1397.8" r="4.3" fill="#347430" stroke="#18461a" stroke-width="0.8"/>
<circle cx="574.6" cy="1397.4" r="1.2" fill="#79b460"/>
<circle cx="575.3" cy="1397.9" r="1.0" fill="#79b460"/>
<circle cx="575.9" cy="1401.9" r="4.2" fill="#347430" stroke="#18461a" stroke-width="0.8"/>
<circle cx="576.8" cy="1400.8" r="1.1" fill="#79b460"/>
<circle cx="576.1" cy="1400.3" r="1.1" fill="#79b460"/>
<circle cx="581.8" cy="1391.8" r="4.7" fill="#347430" stroke="#18461a" stroke-width="0.8"/>
<circle cx="582.9" cy="1392.0" r="1.0" fill="#79b460"/>
<circle cx="580.4" cy="1390.1" r="1.3" fill="#79b460"/>
<circle cx="581.8" cy="1396.8" r="4.2" fill="#347430" stroke="#18461a" stroke-width="0.8"/>
<circle cx="581.9" cy="1398.4" r="0.9" fill="#79b460"/>
<circle cx="580.1" cy="1398.4" r="1.0" fill="#79b460"/>
<circle cx="581.8" cy="1402.4" r="4.4" fill="#347430" stroke="#18461a" stroke-width="0.8"/>
<circle cx="583.8" cy="1403.5" r="0.8" fill="#79b460"/>
<circle cx="581.2" cy="1403.4" r="1.2" fill="#79b460"/>
<circle cx="587.5" cy="1391.4" r="3.8" fill="#347430" stroke="#18461a" stroke-width="0.8"/>
<circle cx="585.5" cy="1391.2" r="1.2" fill="#79b460"/>
<circle cx="587.6" cy="1391.7" r="0.8" fill="#79b460"/>
<circle cx="587.5" cy="1397.8" r="4.1" fill="#347430" stroke="#18461a" stroke-width="0.8"/>
<circle cx="588.4" cy="1396.5" r="1.0" fill="#79b460"/>
<circle cx="589.0" cy="1398.1" r="0.9" fill="#79b460"/>
<circle cx="587.5" cy="1401.4" r="4.4" fill="#347430" stroke="#18461a" stroke-width="0.8"/>
<circle cx="587.6" cy="1400.4" r="1.0" fill="#79b460"/>
<circle cx="586.7" cy="1401.1" r="0.8" fill="#79b460"/>
<circle cx="593.3" cy="1391.0" r="4.3" fill="#347430" stroke="#18461a" stroke-width="0.8"/>
<circle cx="591.7" cy="1393.0" r="0.9" fill="#79b460"/>
<circle cx="592.4" cy="1390.6" r="1.2" fill="#79b460"/>
<circle cx="593.3" cy="1397.1" r="3.7" fill="#347430" stroke="#18461a" stroke-width="0.8"/>
<circle cx="595.1" cy="1395.3" r="1.0" fill="#79b460"/>
<circle cx="594.7" cy="1397.4" r="1.0" fill="#79b460"/>
<circle cx="593.3" cy="1401.6" r="3.7" fill="#347430" stroke="#18461a" stroke-width="0.8"/>
<circle cx="592.6" cy="1402.8" r="0.9" fill="#79b460"/>
<circle cx="592.8" cy="1402.4" r="1.2" fill="#79b460"/>
<circle cx="599.3" cy="1392.1" r="4.1" fill="#347430" stroke="#18461a" stroke-width="0.8"/>
<circle cx="601.4" cy="1390.4" r="1.3" fill="#79b460"/>
<circle cx="600.4" cy="1391.3" r="1.1" fill="#79b460"/>
<circle cx="599.3" cy="1395.9" r="4.0" fill="#347430" stroke="#18461a" stroke-width="0.8"/>
<circle cx="600.6" cy="1396.2" r="1.1" fill="#79b460"/>
<circle cx="599.3" cy="1398.8" r="1.2" fill="#79b460"/>
<circle cx="599.3" cy="1401.9" r="3.6" fill="#347430" stroke="#18461a" stroke-width="0.8"/>
<circle cx="599.1" cy="1401.5" r="1.2" fill="#79b460"/>
<circle cx="598.9" cy="1401.6" r="1.2" fill="#79b460"/>
<circle cx="605.5" cy="1391.9" r="4.2" fill="#347430" stroke="#18461a" stroke-width="0.8"/>
<circle cx="607.1" cy="1392.8" r="1.2" fill="#79b460"/>
<circle cx="605.0" cy="1389.6" r="1.1" fill="#79b460"/>
<circle cx="605.5" cy="1397.3" r="4.3" fill="#347430" stroke="#18461a" stroke-width="0.8"/>
<circle cx="606.8" cy="1394.9" r="0.9" fill="#79b460"/>
<circle cx="603.3" cy="1398.4" r="0.9" fill="#79b460"/>
<circle cx="605.5" cy="1402.2" r="3.7" fill="#347430" stroke="#18461a" stroke-width="0.8"/>
<circle cx="605.8" cy="1399.5" r="1.1" fill="#79b460"/>
<circle cx="606.5" cy="1401.6" r="0.8" fill="#79b460"/>
<circle cx="612.0" cy="1392.1" r="4.1" fill="#347430" stroke="#18461a" stroke-width="0.8"/>
<circle cx="614.5" cy="1393.5" r="1.2" fill="#79b460"/>
<circle cx="610.2" cy="1391.1" r="1.1" fill="#79b460"/>
<circle cx="612.0" cy="1397.8" r="3.6" fill="#347430" stroke="#18461a" stroke-width="0.8"/>
<circle cx="610.9" cy="1395.6" r="1.0" fill="#79b460"/>
<circle cx="610.8" cy="1398.6" r="1.1" fill="#79b460"/>
<circle cx="612.0" cy="1401.5" r="4.2" fill="#347430" stroke="#18461a" stroke-width="0.8"/>
<circle cx="609.8" cy="1400.7" r="1.2" fill="#79b460"/>
<circle cx="613.5" cy="1403.5" r="0.9" fill="#79b460"/>
<circle cx="617.8" cy="1392.0" r="3.7" fill="#347430" stroke="#18461a" stroke-width="0.8"/>
<circle cx="617.2" cy="1391.7" r="1.0" fill="#79b460"/>
<circle cx="618.2" cy="1391.2" r="1.2" fill="#79b460"/>
<circle cx="617.8" cy="1397.6" r="3.8" fill="#347430" stroke="#18461a" stroke-width="0.8"/>
<circle cx="618.1" cy="1394.6" r="1.0" fill="#79b460"/>
<circle cx="618.0" cy="1396.3" r="1.1" fill="#79b460"/>
<circle cx="617.8" cy="1401.2" r="4.0" fill="#347430" stroke="#18461a" stroke-width="0.8"/>
<circle cx="619.3" cy="1400.7" r="1.2" fill="#79b460"/>
<circle cx="619.3" cy="1402.2" r="1.0" fill="#79b460"/>
<circle cx="624.7" cy="1392.7" r="4.1" fill="#347430" stroke="#18461a" stroke-width="0.8"/>
<circle cx="622.5" cy="1391.6" r="1.1" fill="#79b460"/>
<circle cx="622.4" cy="1393.7" r="0.8" fill="#79b460"/>
<circle cx="624.7" cy="1396.2" r="4.3" fill="#347430" stroke="#18461a" stroke-width="0.8"/>
<circle cx="626.8" cy="1397.1" r="1.2" fill="#79b460"/>
<circle cx="624.7" cy="1397.7" r="1.1" fill="#79b460"/>
<circle cx="624.7" cy="1401.1" r="4.0" fill="#347430" stroke="#18461a" stroke-width="0.8"/>
<circle cx="626.4" cy="1399.9" r="1.3" fill="#79b460"/>
<circle cx="623.2" cy="1399.7" r="0.8" fill="#79b460"/>
<circle cx="631.4" cy="1391.7" r="4.7" fill="#347430" stroke="#18461a" stroke-width="0.8"/>
<circle cx="632.2" cy="1390.7" r="1.3" fill="#79b460"/>
<circle cx="632.3" cy="1390.2" r="0.8" fill="#79b460"/>
<circle cx="631.4" cy="1395.9" r="4.4" fill="#347430" stroke="#18461a" stroke-width="0.8"/>
<circle cx="633.1" cy="1395.8" r="0.9" fill="#79b460"/>
<circle cx="631.8" cy="1395.9" r="1.1" fill="#79b460"/>
<circle cx="631.4" cy="1402.5" r="3.8" fill="#347430" stroke="#18461a" stroke-width="0.8"/>
<circle cx="630.5" cy="1403.4" r="0.9" fill="#79b460"/>
<circle cx="632.9" cy="1404.1" r="1.0" fill="#79b460"/>
<circle cx="636.9" cy="1392.2" r="4.1" fill="#347430" stroke="#18461a" stroke-width="0.8"/>
<circle cx="635.5" cy="1392.1" r="0.8" fill="#79b460"/>
<circle cx="636.7" cy="1393.0" r="1.0" fill="#79b460"/>
<circle cx="636.9" cy="1396.0" r="4.4" fill="#347430" stroke="#18461a" stroke-width="0.8"/>
<circle cx="638.6" cy="1394.9" r="1.3" fill="#79b460"/>
<circle cx="639.4" cy="1399.0" r="1.1" fill="#79b460"/>
<circle cx="636.9" cy="1401.4" r="3.9" fill="#347430" stroke="#18461a" stroke-width="0.8"/>
<circle cx="638.2" cy="1401.7" r="1.3" fill="#79b460"/>
<circle cx="634.9" cy="1401.6" r="1.2" fill="#79b460"/>
<circle cx="643.3" cy="1391.1" r="4.2" fill="#347430" stroke="#18461a" stroke-width="0.8"/>
<circle cx="641.5" cy="1390.8" r="1.2" fill="#79b460"/>
<circle cx="645.0" cy="1390.5" r="1.3" fill="#79b460"/>
<circle cx="643.3" cy="1397.0" r="3.6" fill="#347430" stroke="#18461a" stroke-width="0.8"/>
<circle cx="645.7" cy="1396.0" r="1.3" fill="#79b460"/>
<circle cx="644.1" cy="1394.6" r="1.0" fill="#79b460"/>
<circle cx="643.3" cy="1401.2" r="4.1" fill="#347430" stroke="#18461a" stroke-width="0.8"/>
<circle cx="644.5" cy="1400.1" r="1.2" fill="#79b460"/>
<circle cx="642.3" cy="1399.5" r="1.1" fill="#79b460"/>
<circle cx="649.0" cy="1392.5" r="4.3" fill="#347430" stroke="#18461a" stroke-width="0.8"/>
<circle cx="649.4" cy="1391.7" r="0.8" fill="#79b460"/>
<circle cx="649.0" cy="1389.9" r="1.1" fill="#79b460"/>
<circle cx="649.0" cy="1397.0" r="3.8" fill="#347430" stroke="#18461a" stroke-width="0.8"/>
<circle cx="648.2" cy="1396.2" r="1.1" fill="#79b460"/>
<circle cx="647.3" cy="1395.1" r="1.3" fill="#79b460"/>
<circle cx="649.0" cy="1402.4" r="4.0" fill="#347430" stroke="#18461a" stroke-width="0.8"/>
<circle cx="650.8" cy="1401.6" r="0.9" fill="#79b460"/>
<circle cx="646.9" cy="1403.6" r="0.9" fill="#79b460"/>
<circle cx="655.2" cy="1391.1" r="4.2" fill="#347430" stroke="#18461a" stroke-width="0.8"/>
<circle cx="655.0" cy="1390.2" r="1.1" fill="#79b460"/>
<circle cx="655.2" cy="1391.2" r="0.9" fill="#79b460"/>
<circle cx="655.2" cy="1396.2" r="4.1" fill="#347430" stroke="#18461a" stroke-width="0.8"/>
<circle cx="653.3" cy="1395.5" r="1.2" fill="#79b460"/>
<circle cx="655.2" cy="1398.8" r="0.8" fill="#79b460"/>
<circle cx="655.2" cy="1401.7" r="4.7" fill="#347430" stroke="#18461a" stroke-width="0.8"/>
<circle cx="656.7" cy="1402.1" r="1.1" fill="#79b460"/>
<circle cx="653.9" cy="1403.0" r="0.9" fill="#79b460"/>
<circle cx="661.1" cy="1391.7" r="3.6" fill="#347430" stroke="#18461a" stroke-width="0.8"/>
<circle cx="661.2" cy="1390.9" r="1.2" fill="#79b460"/>
<circle cx="659.0" cy="1392.3" r="0.9" fill="#79b460"/>
<circle cx="661.1" cy="1397.4" r="4.3" fill="#347430" stroke="#18461a" stroke-width="0.8"/>
<circle cx="662.2" cy="1394.6" r="0.9" fill="#79b460"/>
<circle cx="661.6" cy="1399.2" r="0.8" fill="#79b460"/>
<circle cx="661.1" cy="1402.1" r="4.3" fill="#347430" stroke="#18461a" stroke-width="0.8"/>
<circle cx="662.7" cy="1400.9" r="1.2" fill="#79b460"/>
<circle cx="660.9" cy="1403.8" r="0.8" fill="#79b460"/>
</g>
<rect x="307.6" y="1331.9" width="29.099999999999966" height="74.5" fill="#fff" stroke="#111" stroke-width="1.4"/>
<line x1="307.6" y1="1337.6" x2="336.7" y2="1337.6" stroke="#111" stroke-width="1.2"/>
<line x1="307.6" y1="1343.4" x2="336.7" y2="1343.4" stroke="#111" stroke-width="1.2"/>
<line x1="307.6" y1="1349.1" x2="336.7" y2="1349.1" stroke="#111" stroke-width="1.2"/>
<line x1="307.6" y1="1354.8" x2="336.7" y2="1354.8" stroke="#111" stroke-width="1.2"/>
<line x1="307.6" y1="1360.6" x2="336.7" y2="1360.6" stroke="#111" stroke-width="1.2"/>
<line x1="307.6" y1="1366.3" x2="336.7" y2="1366.3" stroke="#111" stroke-width="1.2"/>
<line x1="307.6" y1="1372.0" x2="336.7" y2="1372.0" stroke="#111" stroke-width="1.2"/>
<line x1="307.6" y1="1377.7" x2="336.7" y2="1377.7" stroke="#111" stroke-width="1.2"/>
<line x1="307.6" y1="1383.5" x2="336.7" y2="1383.5" stroke="#111" stroke-width="1.2"/>
<line x1="307.6" y1="1389.2" x2="336.7" y2="1389.2" stroke="#111" stroke-width="1.2"/>
<line x1="307.6" y1="1394.9" x2="336.7" y2="1394.9" stroke="#111" stroke-width="1.2"/>
<line x1="307.6" y1="1400.7" x2="336.7" y2="1400.7" stroke="#111" stroke-width="1.2"/>
<line x1="322.15" y1="1331.9" x2="322.15" y2="1403.4" stroke="#111" stroke-width="1.1"/>
<circle cx="322.15" cy="1332.9" r="1.8" fill="#111"/>
<polygon points="319.15,1399.4 325.15,1399.4 322.15,1404.9" fill="#111"/>
<rect x="676.5" y="1331.7" width="29.899999999999977" height="75.09999999999991" fill="#fff" stroke="#111" stroke-width="1.4"/>
<line x1="676.5" y1="1337.5" x2="706.4" y2="1337.5" stroke="#111" stroke-width="1.2"/>
<line x1="676.5" y1="1343.3" x2="706.4" y2="1343.3" stroke="#111" stroke-width="1.2"/>
<line x1="676.5" y1="1349.0" x2="706.4" y2="1349.0" stroke="#111" stroke-width="1.2"/>
<line x1="676.5" y1="1354.8" x2="706.4" y2="1354.8" stroke="#111" stroke-width="1.2"/>
<line x1="676.5" y1="1360.6" x2="706.4" y2="1360.6" stroke="#111" stroke-width="1.2"/>
<line x1="676.5" y1="1366.4" x2="706.4" y2="1366.4" stroke="#111" stroke-width="1.2"/>
<line x1="676.5" y1="1372.1" x2="706.4" y2="1372.1" stroke="#111" stroke-width="1.2"/>
<line x1="676.5" y1="1377.9" x2="706.4" y2="1377.9" stroke="#111" stroke-width="1.2"/>
<line x1="676.5" y1="1383.7" x2="706.4" y2="1383.7" stroke="#111" stroke-width="1.2"/>
<line x1="676.5" y1="1389.5" x2="706.4" y2="1389.5" stroke="#111" stroke-width="1.2"/>
<line x1="676.5" y1="1395.2" x2="706.4" y2="1395.2" stroke="#111" stroke-width="1.2"/>
<line x1="676.5" y1="1401.0" x2="706.4" y2="1401.0" stroke="#111" stroke-width="1.2"/>
<line x1="691.45" y1="1331.7" x2="691.45" y2="1403.8" stroke="#111" stroke-width="1.1"/>
<circle cx="691.45" cy="1332.7" r="1.8" fill="#111"/>
<polygon points="688.45,1399.8 694.45,1399.8 691.45,1405.3" fill="#111"/>
<g stroke="#111" stroke-width="1.4" fill="none" stroke-linecap="round">
<circle cx="961.1" cy="72.2" r="36.4" stroke-width="1.3"/>
<line x1="919.3" y1="94.8" x2="1002.8" y2="50.6" stroke-width="1.3"/>
<polygon points="939.5,30.9 963,74.2 969.3,110.5" fill="#a0a0a0" stroke-width="1.1"/>
<line x1="939.5" y1="30.9" x2="970.4" y2="114"/>
<line x1="941.5" y1="34.5" x2="990.6" y2="103.1"/>
<line x1="963" y1="74.2" x2="983.2" y2="114"/>
<line x1="963" y1="74.2" x2="989" y2="101.5"/>
</g>
<text x="933.8" y="25.1" font-size="21.5" text-anchor="middle" fill="#1e1e24" stroke="#1e1e24" stroke-width="0.25">N</text>
<text x="505" y="19.3" font-size="17" text-anchor="middle" fill="#1e1e24" stroke="#1e1e24" stroke-width="0.25">Straße</text>
<text x="182.8" y="697.2" font-size="16.9" text-anchor="start" fill="#1e1e24" stroke="#1e1e24" stroke-width="0.25">Wald</text>
<text x="762.4" y="697.2" font-size="16.9" text-anchor="start" fill="#1e1e24" stroke="#1e1e24" stroke-width="0.25">Innenhof</text>
<text x="218.9" y="1434.5" font-size="16.9" text-anchor="start" fill="#1e1e24" stroke="#1e1e24" stroke-width="0.25">Erdgeschoss</text>
<text x="483.8" y="1426.5" font-size="16.6" text-anchor="start" fill="#1e1e24" stroke="#1e1e24" stroke-width="0.25">Meer</text>
<rect x="274.1" y="684.7" width="17.2" height="30.0" fill="#033399"/>
<rect x="722.1" y="684.7" width="17.0" height="30.0" fill="#033399"/>
<text x="405.3" y="1305" font-size="12.4" text-anchor="middle" fill="#1e1e24" stroke="#1e1e24" stroke-width="0.25">BK</text>
<text x="609.6" y="1305" font-size="12.4" text-anchor="middle" fill="#1e1e24" stroke="#1e1e24" stroke-width="0.25">BK</text>
</svg></body></html>
